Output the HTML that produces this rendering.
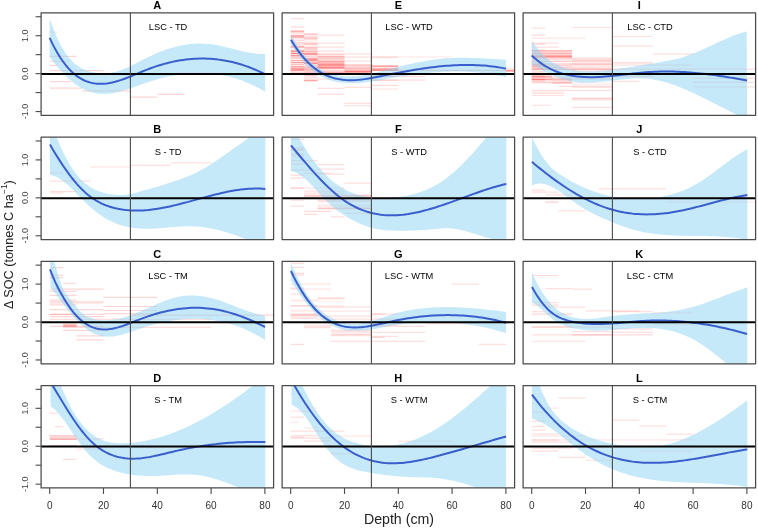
<!DOCTYPE html>
<html><head><meta charset="utf-8"><style>
html,body{margin:0;padding:0;background:#fff;}
body{width:758px;height:528px;overflow:hidden;}
svg{display:block;font-family:"Liberation Sans",sans-serif;filter:blur(0.35px);}
</style></head><body>
<svg width="758" height="528" viewBox="0 0 758 528">
<rect width="758" height="528" fill="#fff"/>
<defs><clipPath id="clipA"><rect x="41.10" y="12.95" width="232.50" height="102.40"/></clipPath><clipPath id="clipB"><rect x="41.10" y="137.15" width="232.50" height="102.40"/></clipPath><clipPath id="clipC"><rect x="41.10" y="261.35" width="232.50" height="102.40"/></clipPath><clipPath id="clipD"><rect x="41.10" y="385.55" width="232.50" height="102.40"/></clipPath><clipPath id="clipE"><rect x="282.10" y="12.95" width="232.50" height="102.40"/></clipPath><clipPath id="clipF"><rect x="282.10" y="137.15" width="232.50" height="102.40"/></clipPath><clipPath id="clipG"><rect x="282.10" y="261.35" width="232.50" height="102.40"/></clipPath><clipPath id="clipH"><rect x="282.10" y="385.55" width="232.50" height="102.40"/></clipPath><clipPath id="clipI"><rect x="523.10" y="12.95" width="232.50" height="102.40"/></clipPath><clipPath id="clipJ"><rect x="523.10" y="137.15" width="232.50" height="102.40"/></clipPath><clipPath id="clipK"><rect x="523.10" y="261.35" width="232.50" height="102.40"/></clipPath><clipPath id="clipL"><rect x="523.10" y="385.55" width="232.50" height="102.40"/></clipPath></defs>
<g clip-path="url(#clipA)">
<line x1="49.70" y1="32.11" x2="57.77" y2="32.11" stroke="#ff1a1a" stroke-opacity="0.12" stroke-width="1.2"/>
<line x1="49.70" y1="56.38" x2="76.60" y2="56.38" stroke="#ff1a1a" stroke-opacity="0.18" stroke-width="1.2"/>
<line x1="49.70" y1="61.24" x2="68.53" y2="61.24" stroke="#ff1a1a" stroke-opacity="0.18" stroke-width="1.2"/>
<line x1="49.70" y1="65.46" x2="57.77" y2="65.46" stroke="#ff1a1a" stroke-opacity="0.18" stroke-width="1.2"/>
<line x1="49.70" y1="70.53" x2="103.50" y2="70.53" stroke="#ff1a1a" stroke-opacity="0.18" stroke-width="1.2"/>
<line x1="49.70" y1="81.71" x2="71.22" y2="81.71" stroke="#ff1a1a" stroke-opacity="0.18" stroke-width="1.2"/>
<line x1="49.70" y1="88.04" x2="81.98" y2="88.04" stroke="#ff1a1a" stroke-opacity="0.18" stroke-width="1.2"/>
<line x1="81.98" y1="90.79" x2="130.40" y2="90.79" stroke="#ff1a1a" stroke-opacity="0.18" stroke-width="1.2"/>
<line x1="130.40" y1="97.12" x2="157.30" y2="97.12" stroke="#ff1a1a" stroke-opacity="0.18" stroke-width="1.2"/>
<line x1="157.30" y1="94.38" x2="184.20" y2="94.38" stroke="#ff1a1a" stroke-opacity="0.18" stroke-width="1.2"/>
<path d="M49.65,18.40 L52.38,26.15 L55.10,33.09 L57.83,39.28 L60.56,44.76 L63.28,49.57 L66.01,53.77 L68.74,57.41 L71.46,60.52 L74.19,63.16 L76.92,65.37 L79.64,67.21 L82.37,68.72 L85.10,69.94 L87.82,70.92 L90.55,71.72 L93.28,72.36 L96.00,72.84 L98.73,73.17 L101.46,73.34 L104.18,73.36 L106.91,73.23 L109.63,72.94 L112.36,72.51 L115.09,71.91 L117.81,71.17 L120.54,70.28 L123.27,69.26 L125.99,68.13 L128.72,66.90 L131.45,65.60 L134.17,64.24 L136.90,62.84 L139.63,61.42 L142.35,60.00 L145.08,58.60 L147.81,57.23 L150.53,55.92 L153.26,54.66 L155.99,53.47 L158.71,52.33 L161.44,51.26 L164.17,50.25 L166.89,49.31 L169.62,48.44 L172.35,47.63 L175.07,46.89 L177.80,46.23 L180.53,45.63 L183.25,45.11 L185.98,44.66 L188.71,44.29 L191.43,44.00 L194.16,43.79 L196.89,43.65 L199.61,43.60 L202.34,43.63 L205.07,43.75 L207.79,43.95 L210.52,44.23 L213.24,44.61 L215.97,45.05 L218.70,45.57 L221.42,46.14 L224.15,46.75 L226.88,47.39 L229.60,48.06 L232.33,48.74 L235.06,49.43 L237.78,50.10 L240.51,50.76 L243.24,51.38 L245.96,51.96 L248.69,52.50 L251.42,52.97 L254.14,53.37 L256.87,53.69 L259.60,53.91 L262.32,54.03 L265.05,54.03 L265.05,91.70 L262.32,90.11 L259.60,88.59 L256.87,87.15 L254.14,85.79 L251.42,84.50 L248.69,83.28 L245.96,82.14 L243.24,81.07 L240.51,80.07 L237.78,79.14 L235.06,78.28 L232.33,77.49 L229.60,76.77 L226.88,76.11 L224.15,75.52 L221.42,75.00 L218.70,74.54 L215.97,74.14 L213.24,73.80 L210.52,73.53 L207.79,73.32 L205.07,73.16 L202.34,73.07 L199.61,73.03 L196.89,73.06 L194.16,73.13 L191.43,73.26 L188.71,73.45 L185.98,73.69 L183.25,73.99 L180.53,74.33 L177.80,74.73 L175.07,75.17 L172.35,75.67 L169.62,76.21 L166.89,76.81 L164.17,77.44 L161.44,78.13 L158.71,78.86 L155.99,79.63 L153.26,80.45 L150.53,81.30 L147.81,82.20 L145.08,83.14 L142.35,84.10 L139.63,85.08 L136.90,86.06 L134.17,87.04 L131.45,87.99 L128.72,88.91 L125.99,89.79 L123.27,90.62 L120.54,91.37 L117.81,92.05 L115.09,92.64 L112.36,93.13 L109.63,93.51 L106.91,93.76 L104.18,93.87 L101.46,93.84 L98.73,93.64 L96.00,93.28 L93.28,92.73 L90.55,91.99 L87.82,91.04 L85.10,89.89 L82.37,88.53 L79.64,86.96 L76.92,85.19 L74.19,83.22 L71.46,81.05 L68.74,78.68 L66.01,76.11 L63.28,73.35 L60.56,70.40 L57.83,67.26 L55.10,63.92 L52.38,60.40 L49.65,56.70 Z" fill="rgb(139,211,241)" fill-opacity="0.5"/>
<path d="M49.65,37.94 L52.38,43.64 L55.10,48.87 L57.83,53.65 L60.56,58.01 L63.28,61.95 L66.01,65.49 L68.74,68.66 L71.46,71.47 L74.19,73.94 L76.92,76.09 L79.64,77.93 L82.37,79.49 L85.10,80.78 L87.82,81.83 L90.55,82.64 L93.28,83.24 L96.00,83.63 L98.73,83.84 L101.46,83.87 L104.18,83.73 L106.91,83.44 L109.63,83.02 L112.36,82.46 L115.09,81.79 L117.81,81.02 L120.54,80.16 L123.27,79.22 L125.99,78.22 L128.72,77.16 L131.45,76.06 L134.17,74.94 L136.90,73.80 L139.63,72.66 L142.35,71.52 L145.08,70.41 L147.81,69.34 L150.53,68.31 L153.26,67.33 L155.99,66.40 L158.71,65.52 L161.44,64.69 L164.17,63.91 L166.89,63.18 L169.62,62.51 L172.35,61.89 L175.07,61.32 L177.80,60.80 L180.53,60.34 L183.25,59.93 L185.98,59.57 L188.71,59.27 L191.43,59.02 L194.16,58.83 L196.89,58.69 L199.61,58.61 L202.34,58.59 L205.07,58.62 L207.79,58.70 L210.52,58.85 L213.24,59.05 L215.97,59.31 L218.70,59.63 L221.42,60.00 L224.15,60.44 L226.88,60.93 L229.60,61.49 L232.33,62.10 L235.06,62.77 L237.78,63.51 L240.51,64.30 L243.24,65.16 L245.96,66.08 L248.69,67.05 L251.42,68.10 L254.14,69.20 L256.87,70.37 L259.60,71.60 L262.32,72.89 L265.05,74.25" fill="none" stroke="#3a5fcd" stroke-width="2" stroke-linejoin="round"/>
</g>
<line x1="41.10" y1="73.94" x2="273.60" y2="73.94" stroke="#000" stroke-width="2"/>
<line x1="130.40" y1="12.95" x2="130.40" y2="115.35" stroke="#4a4a4a" stroke-width="1.1"/>
<rect x="41.10" y="12.95" width="232.50" height="102.40" fill="none" stroke="#4a4a4a" stroke-width="1.25" stroke-linejoin="round"/>
<text x="157.35" y="9.25" font-size="11" font-weight="bold" text-anchor="middle" fill="#000">A</text>
<text x="168.06" y="30.35" font-size="9.3" text-anchor="middle" fill="#000">LSC - TD</text>
<g clip-path="url(#clipB)">
<line x1="90.05" y1="167.00" x2="130.40" y2="167.00" stroke="#ff1a1a" stroke-opacity="0.14" stroke-width="1.2"/>
<line x1="130.40" y1="165.30" x2="170.75" y2="165.30" stroke="#ff1a1a" stroke-opacity="0.14" stroke-width="1.2"/>
<line x1="170.75" y1="162.80" x2="211.10" y2="162.80" stroke="#ff1a1a" stroke-opacity="0.14" stroke-width="1.2"/>
<line x1="49.70" y1="173.00" x2="63.15" y2="173.00" stroke="#ff1a1a" stroke-opacity="0.14" stroke-width="1.2"/>
<line x1="49.70" y1="181.10" x2="90.05" y2="181.10" stroke="#ff1a1a" stroke-opacity="0.14" stroke-width="1.2"/>
<line x1="49.70" y1="191.70" x2="76.60" y2="191.70" stroke="#ff1a1a" stroke-opacity="0.16" stroke-width="1.2"/>
<line x1="49.70" y1="193.00" x2="63.15" y2="193.00" stroke="#ff1a1a" stroke-opacity="0.14" stroke-width="1.2"/>
<path d="M49.95,119.03 L52.68,126.80 L55.40,134.09 L58.13,140.91 L60.86,147.24 L63.58,153.11 L66.31,158.49 L69.04,163.39 L71.76,167.81 L74.49,171.77 L77.22,175.30 L79.94,178.43 L82.67,181.18 L85.40,183.58 L88.12,185.66 L90.85,187.45 L93.58,188.97 L96.30,190.26 L99.03,191.34 L101.76,192.24 L104.48,193.00 L107.21,193.63 L109.93,194.15 L112.66,194.55 L115.39,194.82 L118.11,194.97 L120.84,195.00 L123.57,194.89 L126.29,194.65 L129.02,194.27 L131.75,193.76 L134.47,193.12 L137.20,192.39 L139.93,191.60 L142.65,190.78 L145.38,189.96 L148.11,189.16 L150.83,188.42 L153.56,187.69 L156.29,186.95 L159.01,186.16 L161.74,185.33 L164.47,184.46 L167.19,183.57 L169.92,182.66 L172.65,181.75 L175.37,180.83 L178.10,179.91 L180.83,178.98 L183.55,178.03 L186.28,177.03 L189.01,175.98 L191.73,174.85 L194.46,173.62 L197.19,172.29 L199.91,170.85 L202.64,169.32 L205.37,167.70 L208.09,166.02 L210.82,164.29 L213.54,162.51 L216.27,160.69 L219.00,158.84 L221.72,156.96 L224.45,155.06 L227.18,153.15 L229.90,151.22 L232.63,149.29 L235.36,147.36 L238.08,145.43 L240.81,143.52 L243.54,141.60 L246.26,139.66 L248.99,137.67 L251.72,135.61 L254.44,133.44 L257.17,131.15 L259.90,128.71 L262.62,126.09 L265.35,123.26 L265.35,247.54 L262.62,246.32 L259.90,245.11 L257.17,243.92 L254.44,242.75 L251.72,241.59 L248.99,240.46 L246.26,239.36 L243.54,238.28 L240.81,237.23 L238.08,236.21 L235.36,235.23 L232.63,234.28 L229.90,233.38 L227.18,232.52 L224.45,231.70 L221.72,230.93 L219.00,230.21 L216.27,229.54 L213.54,228.93 L210.82,228.38 L208.09,227.88 L205.37,227.45 L202.64,227.08 L199.91,226.79 L197.19,226.56 L194.46,226.40 L191.73,226.32 L189.01,226.30 L186.28,226.34 L183.55,226.42 L180.83,226.55 L178.10,226.71 L175.37,226.91 L172.65,227.12 L169.92,227.34 L167.19,227.57 L164.47,227.80 L161.74,228.01 L159.01,228.21 L156.29,228.39 L153.56,228.54 L150.83,228.64 L148.11,228.70 L145.38,228.71 L142.65,228.65 L139.93,228.53 L137.20,228.33 L134.47,228.04 L131.75,227.67 L129.02,227.20 L126.29,226.62 L123.57,225.93 L120.84,225.14 L118.11,224.22 L115.39,223.18 L112.66,222.02 L109.93,220.72 L107.21,219.29 L104.48,217.71 L101.76,215.99 L99.03,214.12 L96.30,212.10 L93.58,209.92 L90.85,207.57 L88.12,205.06 L85.40,202.42 L82.67,199.69 L79.94,196.91 L77.22,194.12 L74.49,191.36 L71.76,188.68 L69.04,186.11 L66.31,183.70 L63.58,181.48 L60.86,179.51 L58.13,177.81 L55.40,176.43 L52.68,175.42 L49.95,174.81 Z" fill="rgb(139,211,241)" fill-opacity="0.5"/>
<path d="M49.95,144.51 L52.68,149.19 L55.40,153.73 L58.13,158.13 L60.86,162.38 L63.58,166.48 L66.31,170.41 L69.04,174.17 L71.76,177.75 L74.49,181.14 L77.22,184.33 L79.94,187.32 L82.67,190.09 L85.40,192.64 L88.12,194.96 L90.85,197.07 L93.58,198.97 L96.30,200.68 L99.03,202.21 L101.76,203.56 L104.48,204.76 L107.21,205.82 L109.93,206.73 L112.66,207.53 L115.39,208.21 L118.11,208.80 L120.84,209.29 L123.57,209.70 L126.29,210.02 L129.02,210.27 L131.75,210.43 L134.47,210.53 L137.20,210.55 L139.93,210.50 L142.65,210.39 L145.38,210.22 L148.11,209.99 L150.83,209.70 L153.56,209.36 L156.29,208.98 L159.01,208.54 L161.74,208.07 L164.47,207.55 L167.19,207.00 L169.92,206.41 L172.65,205.79 L175.37,205.15 L178.10,204.48 L180.83,203.79 L183.55,203.08 L186.28,202.36 L189.01,201.63 L191.73,200.88 L194.46,200.14 L197.19,199.39 L199.91,198.64 L202.64,197.89 L205.37,197.15 L208.09,196.42 L210.82,195.70 L213.54,195.00 L216.27,194.32 L219.00,193.66 L221.72,193.03 L224.45,192.43 L227.18,191.85 L229.90,191.31 L232.63,190.81 L235.36,190.36 L238.08,189.94 L240.81,189.58 L243.54,189.26 L246.26,189.00 L248.99,188.79 L251.72,188.64 L254.44,188.56 L257.17,188.54 L259.90,188.59 L262.62,188.72 L265.35,188.92" fill="none" stroke="#3a5fcd" stroke-width="2" stroke-linejoin="round"/>
</g>
<line x1="41.10" y1="198.14" x2="273.60" y2="198.14" stroke="#000" stroke-width="2"/>
<line x1="130.40" y1="137.15" x2="130.40" y2="239.55" stroke="#4a4a4a" stroke-width="1.1"/>
<rect x="41.10" y="137.15" width="232.50" height="102.40" fill="none" stroke="#4a4a4a" stroke-width="1.25" stroke-linejoin="round"/>
<text x="157.35" y="133.45" font-size="11" font-weight="bold" text-anchor="middle" fill="#000">B</text>
<text x="168.06" y="154.55" font-size="9.3" text-anchor="middle" fill="#000">S - TD</text>
<g clip-path="url(#clipC)">
<line x1="49.70" y1="267.57" x2="63.15" y2="267.57" stroke="#ff1a1a" stroke-opacity="0.18" stroke-width="1.2"/>
<line x1="49.70" y1="275.04" x2="63.15" y2="275.04" stroke="#ff1a1a" stroke-opacity="0.18" stroke-width="1.2"/>
<line x1="49.70" y1="277.58" x2="63.15" y2="277.58" stroke="#ff1a1a" stroke-opacity="0.18" stroke-width="1.2"/>
<line x1="49.70" y1="326.40" x2="63.15" y2="326.40" stroke="#ff1a1a" stroke-opacity="0.18" stroke-width="1.2"/>
<line x1="63.15" y1="283.47" x2="76.60" y2="283.47" stroke="#ff1a1a" stroke-opacity="0.15" stroke-width="1.2"/>
<line x1="49.70" y1="289.03" x2="103.50" y2="289.03" stroke="#ff1a1a" stroke-opacity="0.18" stroke-width="1.2"/>
<line x1="49.70" y1="301.75" x2="103.50" y2="301.75" stroke="#ff1a1a" stroke-opacity="0.18" stroke-width="1.2"/>
<line x1="49.70" y1="303.02" x2="103.50" y2="303.02" stroke="#ff1a1a" stroke-opacity="0.18" stroke-width="1.2"/>
<line x1="49.70" y1="309.70" x2="103.50" y2="309.70" stroke="#ff1a1a" stroke-opacity="0.18" stroke-width="1.2"/>
<line x1="49.70" y1="314.47" x2="103.50" y2="314.47" stroke="#ff1a1a" stroke-opacity="0.18" stroke-width="1.2"/>
<line x1="49.70" y1="316.54" x2="103.50" y2="316.54" stroke="#ff1a1a" stroke-opacity="0.18" stroke-width="1.2"/>
<line x1="49.70" y1="291.42" x2="76.60" y2="291.42" stroke="#ff1a1a" stroke-opacity="0.18" stroke-width="1.2"/>
<line x1="49.70" y1="295.39" x2="76.60" y2="295.39" stroke="#ff1a1a" stroke-opacity="0.18" stroke-width="1.2"/>
<line x1="49.70" y1="300.16" x2="76.60" y2="300.16" stroke="#ff1a1a" stroke-opacity="0.18" stroke-width="1.2"/>
<line x1="49.70" y1="304.93" x2="76.60" y2="304.93" stroke="#ff1a1a" stroke-opacity="0.18" stroke-width="1.2"/>
<line x1="49.70" y1="314.47" x2="76.60" y2="314.47" stroke="#ff1a1a" stroke-opacity="0.18" stroke-width="1.2"/>
<line x1="103.50" y1="297.30" x2="157.30" y2="297.30" stroke="#ff1a1a" stroke-opacity="0.18" stroke-width="1.2"/>
<line x1="103.50" y1="306.52" x2="157.30" y2="306.52" stroke="#ff1a1a" stroke-opacity="0.18" stroke-width="1.2"/>
<line x1="103.50" y1="310.50" x2="157.30" y2="310.50" stroke="#ff1a1a" stroke-opacity="0.18" stroke-width="1.2"/>
<line x1="103.50" y1="313.68" x2="157.30" y2="313.68" stroke="#ff1a1a" stroke-opacity="0.18" stroke-width="1.2"/>
<line x1="63.15" y1="324.01" x2="76.60" y2="324.01" stroke="#ff1a1a" stroke-opacity="0.21" stroke-width="1.2"/>
<line x1="63.15" y1="324.81" x2="76.60" y2="324.81" stroke="#ff1a1a" stroke-opacity="0.21" stroke-width="1.2"/>
<line x1="63.15" y1="325.60" x2="76.60" y2="325.60" stroke="#ff1a1a" stroke-opacity="0.21" stroke-width="1.2"/>
<line x1="63.15" y1="326.40" x2="76.60" y2="326.40" stroke="#ff1a1a" stroke-opacity="0.21" stroke-width="1.2"/>
<line x1="63.15" y1="327.19" x2="76.60" y2="327.19" stroke="#ff1a1a" stroke-opacity="0.21" stroke-width="1.2"/>
<line x1="63.15" y1="326.40" x2="103.50" y2="326.40" stroke="#ff1a1a" stroke-opacity="0.18" stroke-width="1.2"/>
<line x1="63.15" y1="330.37" x2="103.50" y2="330.37" stroke="#ff1a1a" stroke-opacity="0.18" stroke-width="1.2"/>
<line x1="76.60" y1="335.94" x2="103.50" y2="335.94" stroke="#ff1a1a" stroke-opacity="0.18" stroke-width="1.2"/>
<line x1="76.60" y1="339.91" x2="103.50" y2="339.91" stroke="#ff1a1a" stroke-opacity="0.18" stroke-width="1.2"/>
<line x1="49.70" y1="319.24" x2="130.40" y2="319.24" stroke="#ff1a1a" stroke-opacity="0.18" stroke-width="1.2"/>
<line x1="130.40" y1="315.04" x2="278.35" y2="315.04" stroke="#ff1a1a" stroke-opacity="0.18" stroke-width="1.2"/>
<line x1="130.40" y1="319.39" x2="211.10" y2="319.39" stroke="#ff1a1a" stroke-opacity="0.15" stroke-width="1.2"/>
<line x1="76.60" y1="327.31" x2="211.10" y2="327.31" stroke="#ff1a1a" stroke-opacity="0.15" stroke-width="1.2"/>
<path d="M49.95,247.03 L52.67,256.26 L55.40,265.81 L58.12,275.00 L60.84,283.18 L63.56,289.70 L66.29,294.45 L69.01,298.06 L71.73,301.25 L74.46,304.56 L77.18,307.90 L79.90,311.01 L82.62,313.60 L85.35,315.54 L88.07,316.96 L90.79,318.00 L93.51,318.79 L96.24,319.41 L98.96,319.85 L101.68,320.14 L104.41,320.27 L107.13,320.25 L109.85,320.10 L112.57,319.81 L115.30,319.41 L118.02,318.89 L120.74,318.27 L123.47,317.55 L126.19,316.75 L128.91,315.86 L131.63,314.90 L134.36,313.88 L137.08,312.80 L139.80,311.67 L142.52,310.51 L145.25,309.32 L147.97,308.11 L150.69,306.89 L153.42,305.68 L156.14,304.48 L158.86,303.32 L161.58,302.19 L164.31,301.12 L167.03,300.10 L169.75,299.16 L172.48,298.31 L175.20,297.55 L177.92,296.89 L180.64,296.36 L183.37,295.95 L186.09,295.66 L188.81,295.48 L191.53,295.42 L194.26,295.47 L196.98,295.63 L199.70,295.89 L202.43,296.25 L205.15,296.71 L207.87,297.26 L210.59,297.91 L213.32,298.64 L216.04,299.44 L218.76,300.32 L221.49,301.25 L224.21,302.23 L226.93,303.24 L229.65,304.28 L232.38,305.34 L235.10,306.40 L237.82,307.46 L240.54,308.51 L243.27,309.53 L245.99,310.52 L248.71,311.46 L251.44,312.35 L254.16,313.18 L256.88,313.93 L259.60,314.60 L262.33,315.17 L265.05,315.64 L265.05,339.98 L262.34,338.29 L259.62,336.68 L256.91,335.14 L254.19,333.68 L251.48,332.29 L248.77,330.98 L246.05,329.74 L243.34,328.57 L240.62,327.47 L237.91,326.44 L235.20,325.48 L232.48,324.59 L229.77,323.77 L227.06,323.01 L224.34,322.32 L221.63,321.70 L218.91,321.14 L216.20,320.64 L213.49,320.20 L210.77,319.83 L208.06,319.51 L205.34,319.26 L202.63,319.06 L199.92,318.92 L197.20,318.84 L194.49,318.81 L191.77,318.84 L189.06,318.92 L186.35,319.06 L183.63,319.24 L180.92,319.48 L178.20,319.77 L175.49,320.11 L172.78,320.50 L170.06,320.94 L167.35,321.42 L164.63,321.95 L161.92,322.53 L159.21,323.14 L156.49,323.81 L153.78,324.51 L151.07,325.26 L148.35,326.04 L145.64,326.87 L142.92,327.74 L140.21,328.64 L137.50,329.58 L134.78,330.53 L132.07,331.47 L129.35,332.40 L126.64,333.28 L123.93,334.10 L121.21,334.84 L118.50,335.48 L115.78,336.00 L113.07,336.39 L110.36,336.62 L107.64,336.67 L104.93,336.52 L102.21,336.17 L99.50,335.57 L96.79,334.73 L94.07,333.62 L91.36,332.21 L88.64,330.51 L85.93,328.52 L83.22,326.28 L80.50,323.80 L77.79,321.10 L75.08,318.22 L72.36,315.16 L69.65,311.96 L66.93,308.64 L64.22,305.21 L61.51,301.71 L58.79,298.15 L56.08,294.56 L53.36,290.95 L50.65,287.36 Z" fill="rgb(139,211,241)" fill-opacity="0.5"/>
<path d="M49.95,269.40 L52.67,276.16 L55.40,282.32 L58.12,287.95 L60.84,293.11 L63.56,297.87 L66.29,302.29 L69.01,306.38 L71.73,310.14 L74.46,313.52 L77.18,316.53 L79.90,319.19 L82.62,321.51 L85.35,323.50 L88.07,325.18 L90.79,326.56 L93.51,327.65 L96.24,328.46 L98.96,329.03 L101.68,329.35 L104.41,329.47 L107.13,329.38 L109.85,329.11 L112.57,328.68 L115.30,328.10 L118.02,327.39 L120.74,326.58 L123.47,325.68 L126.19,324.70 L128.91,323.67 L131.63,322.60 L134.36,321.52 L137.08,320.43 L139.80,319.36 L142.52,318.33 L145.25,317.34 L147.97,316.39 L150.69,315.48 L153.42,314.62 L156.14,313.81 L158.86,313.05 L161.58,312.33 L164.31,311.66 L167.03,311.04 L169.75,310.47 L172.48,309.95 L175.20,309.49 L177.92,309.08 L180.64,308.72 L183.37,308.42 L186.09,308.18 L188.81,307.99 L191.53,307.87 L194.26,307.80 L196.98,307.79 L199.70,307.85 L202.43,307.96 L205.15,308.14 L207.87,308.39 L210.59,308.70 L213.32,309.07 L216.04,309.52 L218.76,310.02 L221.49,310.58 L224.21,311.21 L226.93,311.90 L229.65,312.64 L232.38,313.44 L235.10,314.30 L237.82,315.21 L240.54,316.17 L243.27,317.19 L245.99,318.25 L248.71,319.37 L251.44,320.53 L254.16,321.74 L256.88,322.99 L259.60,324.29 L262.33,325.63 L265.05,327.01" fill="none" stroke="#3a5fcd" stroke-width="2" stroke-linejoin="round"/>
</g>
<line x1="41.10" y1="322.34" x2="273.60" y2="322.34" stroke="#000" stroke-width="2"/>
<line x1="130.40" y1="261.35" x2="130.40" y2="363.75" stroke="#4a4a4a" stroke-width="1.1"/>
<rect x="41.10" y="261.35" width="232.50" height="102.40" fill="none" stroke="#4a4a4a" stroke-width="1.25" stroke-linejoin="round"/>
<text x="157.35" y="257.65" font-size="11" font-weight="bold" text-anchor="middle" fill="#000">C</text>
<text x="168.06" y="278.75" font-size="9.3" text-anchor="middle" fill="#000">LSC - TM</text>
<g clip-path="url(#clipD)">
<line x1="49.70" y1="435.60" x2="76.60" y2="435.60" stroke="#ff1a1a" stroke-opacity="0.21" stroke-width="1.2"/>
<line x1="49.70" y1="437.10" x2="76.60" y2="437.10" stroke="#ff1a1a" stroke-opacity="0.24" stroke-width="1.2"/>
<line x1="49.70" y1="439.10" x2="76.60" y2="439.10" stroke="#ff1a1a" stroke-opacity="0.38" stroke-width="1.2"/>
<line x1="49.70" y1="438.80" x2="103.50" y2="438.80" stroke="#ff1a1a" stroke-opacity="0.16" stroke-width="1.2"/>
<line x1="49.70" y1="445.60" x2="76.60" y2="445.60" stroke="#ff1a1a" stroke-opacity="0.22" stroke-width="1.2"/>
<line x1="76.60" y1="449.20" x2="103.50" y2="449.20" stroke="#ff1a1a" stroke-opacity="0.11" stroke-width="1.2"/>
<line x1="63.15" y1="459.30" x2="76.60" y2="459.30" stroke="#ff1a1a" stroke-opacity="0.16" stroke-width="1.2"/>
<line x1="55.08" y1="426.70" x2="63.15" y2="426.70" stroke="#ff1a1a" stroke-opacity="0.14" stroke-width="1.2"/>
<line x1="49.70" y1="413.10" x2="57.77" y2="413.10" stroke="#ff1a1a" stroke-opacity="0.14" stroke-width="1.2"/>
<path d="M49.95,353.40 L52.68,362.31 L55.40,370.61 L58.13,378.34 L60.86,385.51 L63.58,392.14 L66.31,398.25 L69.04,403.87 L71.76,409.01 L74.49,413.69 L77.22,417.93 L79.94,421.76 L82.67,425.20 L85.40,428.26 L88.12,430.97 L90.85,433.34 L93.58,435.40 L96.30,437.16 L99.03,438.66 L101.76,439.90 L104.48,440.91 L107.21,441.71 L109.93,442.31 L112.66,442.75 L115.39,443.04 L118.11,443.19 L120.84,443.24 L123.57,443.20 L126.29,443.09 L129.02,442.93 L131.75,442.70 L134.47,442.42 L137.20,442.09 L139.93,441.70 L142.65,441.25 L145.38,440.75 L148.11,440.20 L150.83,439.60 L153.56,438.94 L156.29,438.23 L159.01,437.48 L161.74,436.67 L164.47,435.82 L167.19,434.91 L169.92,433.96 L172.65,432.96 L175.37,431.92 L178.10,430.83 L180.83,429.69 L183.55,428.51 L186.28,427.29 L189.01,426.02 L191.73,424.71 L194.46,423.36 L197.19,421.97 L199.91,420.53 L202.64,419.06 L205.37,417.55 L208.09,416.00 L210.82,414.41 L213.54,412.79 L216.27,411.12 L219.00,409.43 L221.72,407.69 L224.45,405.93 L227.18,404.13 L229.90,402.29 L232.63,400.43 L235.36,398.53 L238.08,396.60 L240.81,394.64 L243.54,392.65 L246.26,390.63 L248.99,388.58 L251.72,386.50 L254.44,384.40 L257.17,382.27 L259.90,380.11 L262.62,377.93 L265.35,375.73 L265.35,499.70 L262.63,498.50 L259.91,497.28 L257.20,496.05 L254.48,494.82 L251.76,493.58 L249.04,492.34 L246.33,491.11 L243.61,489.90 L240.89,488.69 L238.17,487.51 L235.46,486.35 L232.74,485.22 L230.02,484.12 L227.30,483.05 L224.58,482.03 L221.87,481.05 L219.15,480.13 L216.43,479.26 L213.71,478.44 L211.00,477.69 L208.28,477.01 L205.56,476.40 L202.84,475.86 L200.12,475.41 L197.41,475.04 L194.69,474.76 L191.97,474.56 L189.25,474.45 L186.54,474.41 L183.82,474.43 L181.10,474.50 L178.38,474.62 L175.67,474.77 L172.95,474.94 L170.23,475.13 L167.51,475.32 L164.79,475.51 L162.08,475.68 L159.36,475.83 L156.64,475.95 L153.92,476.03 L151.21,476.06 L148.49,476.04 L145.77,475.97 L143.05,475.85 L140.33,475.67 L137.62,475.44 L134.90,475.14 L132.18,474.79 L129.46,474.37 L126.75,473.89 L124.03,473.34 L121.31,472.72 L118.59,472.03 L115.88,471.26 L113.16,470.37 L110.44,469.36 L107.72,468.19 L105.00,466.85 L102.29,465.32 L99.57,463.57 L96.85,461.59 L94.13,459.36 L91.42,456.89 L88.70,454.15 L85.98,451.15 L83.26,447.87 L80.54,444.33 L77.83,440.57 L75.11,436.65 L72.39,432.63 L69.67,428.60 L66.96,424.62 L64.24,420.77 L61.52,417.13 L58.80,413.78 L56.09,410.79 L53.37,408.23 L50.65,406.19 Z" fill="rgb(139,211,241)" fill-opacity="0.5"/>
<path d="M48.35,378.68 L51.10,383.12 L53.84,387.62 L56.59,392.17 L59.34,396.72 L62.08,401.26 L64.83,405.75 L67.58,410.18 L70.32,414.50 L73.07,418.69 L75.82,422.74 L78.57,426.59 L81.31,430.25 L84.06,433.68 L86.81,436.89 L89.55,439.86 L92.30,442.58 L95.05,445.04 L97.79,447.25 L100.54,449.21 L103.29,450.94 L106.03,452.45 L108.78,453.77 L111.53,454.91 L114.27,455.88 L117.02,456.69 L119.77,457.35 L122.51,457.86 L125.26,458.24 L128.01,458.49 L130.76,458.63 L133.50,458.65 L136.25,458.57 L139.00,458.39 L141.74,458.13 L144.49,457.79 L147.24,457.38 L149.98,456.92 L152.73,456.39 L155.48,455.82 L158.22,455.22 L160.97,454.58 L163.72,453.93 L166.46,453.26 L169.21,452.59 L171.96,451.93 L174.70,451.27 L177.45,450.64 L180.20,450.03 L182.94,449.44 L185.69,448.87 L188.44,448.33 L191.19,447.81 L193.93,447.31 L196.68,446.84 L199.43,446.38 L202.17,445.95 L204.92,445.54 L207.67,445.16 L210.41,444.79 L213.16,444.45 L215.91,444.13 L218.65,443.83 L221.40,443.56 L224.15,443.30 L226.89,443.07 L229.64,442.86 L232.39,442.67 L235.13,442.50 L237.88,442.36 L240.63,442.23 L243.38,442.13 L246.12,442.05 L248.87,441.99 L251.62,441.95 L254.36,441.93 L257.11,441.94 L259.86,441.96 L262.60,442.01 L265.35,442.08" fill="none" stroke="#3a5fcd" stroke-width="2" stroke-linejoin="round"/>
</g>
<line x1="41.10" y1="446.54" x2="273.60" y2="446.54" stroke="#000" stroke-width="2"/>
<line x1="130.40" y1="385.55" x2="130.40" y2="487.95" stroke="#4a4a4a" stroke-width="1.1"/>
<rect x="41.10" y="385.55" width="232.50" height="102.40" fill="none" stroke="#4a4a4a" stroke-width="1.25" stroke-linejoin="round"/>
<text x="157.35" y="381.85" font-size="11" font-weight="bold" text-anchor="middle" fill="#000">D</text>
<text x="168.06" y="402.95" font-size="9.3" text-anchor="middle" fill="#000">S - TM</text>
<g clip-path="url(#clipE)">
<line x1="290.70" y1="18.60" x2="304.15" y2="18.60" stroke="#ff1a1a" stroke-opacity="0.14" stroke-width="1.2"/>
<line x1="290.70" y1="27.10" x2="304.15" y2="27.10" stroke="#ff1a1a" stroke-opacity="0.16" stroke-width="1.2"/>
<line x1="290.70" y1="31.10" x2="304.15" y2="31.10" stroke="#ff1a1a" stroke-opacity="0.36" stroke-width="1.2"/>
<line x1="290.70" y1="32.10" x2="304.15" y2="32.10" stroke="#ff1a1a" stroke-opacity="0.20" stroke-width="1.2"/>
<line x1="290.70" y1="33.60" x2="304.15" y2="33.60" stroke="#ff1a1a" stroke-opacity="0.12" stroke-width="1.2"/>
<line x1="290.70" y1="35.60" x2="304.15" y2="35.60" stroke="#ff1a1a" stroke-opacity="0.36" stroke-width="1.2"/>
<line x1="290.70" y1="36.60" x2="304.15" y2="36.60" stroke="#ff1a1a" stroke-opacity="0.30" stroke-width="1.2"/>
<line x1="290.70" y1="37.60" x2="304.15" y2="37.60" stroke="#ff1a1a" stroke-opacity="0.23" stroke-width="1.2"/>
<line x1="290.70" y1="39.10" x2="304.15" y2="39.10" stroke="#ff1a1a" stroke-opacity="0.10" stroke-width="1.2"/>
<line x1="290.70" y1="40.60" x2="304.15" y2="40.60" stroke="#ff1a1a" stroke-opacity="0.16" stroke-width="1.2"/>
<line x1="290.70" y1="42.60" x2="304.15" y2="42.60" stroke="#ff1a1a" stroke-opacity="0.18" stroke-width="1.2"/>
<line x1="290.70" y1="44.10" x2="304.15" y2="44.10" stroke="#ff1a1a" stroke-opacity="0.18" stroke-width="1.2"/>
<line x1="290.70" y1="46.10" x2="304.15" y2="46.10" stroke="#ff1a1a" stroke-opacity="0.22" stroke-width="1.2"/>
<line x1="290.70" y1="47.10" x2="304.15" y2="47.10" stroke="#ff1a1a" stroke-opacity="0.40" stroke-width="1.2"/>
<line x1="290.70" y1="49.10" x2="304.15" y2="49.10" stroke="#ff1a1a" stroke-opacity="0.12" stroke-width="1.2"/>
<line x1="290.70" y1="51.10" x2="304.15" y2="51.10" stroke="#ff1a1a" stroke-opacity="0.15" stroke-width="1.2"/>
<line x1="290.70" y1="51.10" x2="304.15" y2="51.10" stroke="#ff1a1a" stroke-opacity="0.53" stroke-width="1.2"/>
<line x1="290.70" y1="52.60" x2="304.15" y2="52.60" stroke="#ff1a1a" stroke-opacity="0.18" stroke-width="1.2"/>
<line x1="290.70" y1="53.60" x2="304.15" y2="53.60" stroke="#ff1a1a" stroke-opacity="0.52" stroke-width="1.2"/>
<line x1="290.70" y1="55.60" x2="304.15" y2="55.60" stroke="#ff1a1a" stroke-opacity="0.46" stroke-width="1.2"/>
<line x1="290.70" y1="57.10" x2="304.15" y2="57.10" stroke="#ff1a1a" stroke-opacity="0.29" stroke-width="1.2"/>
<line x1="290.70" y1="58.60" x2="304.15" y2="58.60" stroke="#ff1a1a" stroke-opacity="0.20" stroke-width="1.2"/>
<line x1="290.70" y1="60.60" x2="304.15" y2="60.60" stroke="#ff1a1a" stroke-opacity="0.37" stroke-width="1.2"/>
<line x1="290.70" y1="62.60" x2="304.15" y2="62.60" stroke="#ff1a1a" stroke-opacity="0.45" stroke-width="1.2"/>
<line x1="290.70" y1="64.60" x2="304.15" y2="64.60" stroke="#ff1a1a" stroke-opacity="0.29" stroke-width="1.2"/>
<line x1="290.70" y1="66.60" x2="304.15" y2="66.60" stroke="#ff1a1a" stroke-opacity="0.39" stroke-width="1.2"/>
<line x1="290.70" y1="68.10" x2="304.15" y2="68.10" stroke="#ff1a1a" stroke-opacity="0.38" stroke-width="1.2"/>
<line x1="290.70" y1="69.10" x2="304.15" y2="69.10" stroke="#ff1a1a" stroke-opacity="0.35" stroke-width="1.2"/>
<line x1="290.70" y1="70.10" x2="304.15" y2="70.10" stroke="#ff1a1a" stroke-opacity="0.49" stroke-width="1.2"/>
<line x1="290.70" y1="71.10" x2="304.15" y2="71.10" stroke="#ff1a1a" stroke-opacity="0.19" stroke-width="1.2"/>
<line x1="290.70" y1="72.60" x2="304.15" y2="72.60" stroke="#ff1a1a" stroke-opacity="0.18" stroke-width="1.2"/>
<line x1="304.15" y1="34.10" x2="317.60" y2="34.10" stroke="#ff1a1a" stroke-opacity="0.32" stroke-width="1.2"/>
<line x1="304.15" y1="36.10" x2="317.60" y2="36.10" stroke="#ff1a1a" stroke-opacity="0.10" stroke-width="1.2"/>
<line x1="304.15" y1="37.10" x2="317.60" y2="37.10" stroke="#ff1a1a" stroke-opacity="0.15" stroke-width="1.2"/>
<line x1="304.15" y1="38.10" x2="317.60" y2="38.10" stroke="#ff1a1a" stroke-opacity="0.20" stroke-width="1.2"/>
<line x1="304.15" y1="39.10" x2="317.60" y2="39.10" stroke="#ff1a1a" stroke-opacity="0.19" stroke-width="1.2"/>
<line x1="304.15" y1="41.10" x2="317.60" y2="41.10" stroke="#ff1a1a" stroke-opacity="0.09" stroke-width="1.2"/>
<line x1="304.15" y1="43.10" x2="317.60" y2="43.10" stroke="#ff1a1a" stroke-opacity="0.19" stroke-width="1.2"/>
<line x1="304.15" y1="44.10" x2="317.60" y2="44.10" stroke="#ff1a1a" stroke-opacity="0.29" stroke-width="1.2"/>
<line x1="304.15" y1="46.10" x2="317.60" y2="46.10" stroke="#ff1a1a" stroke-opacity="0.13" stroke-width="1.2"/>
<line x1="304.15" y1="47.60" x2="317.60" y2="47.60" stroke="#ff1a1a" stroke-opacity="0.27" stroke-width="1.2"/>
<line x1="304.15" y1="49.10" x2="317.60" y2="49.10" stroke="#ff1a1a" stroke-opacity="0.28" stroke-width="1.2"/>
<line x1="304.15" y1="50.60" x2="317.60" y2="50.60" stroke="#ff1a1a" stroke-opacity="0.17" stroke-width="1.2"/>
<line x1="304.15" y1="51.60" x2="317.60" y2="51.60" stroke="#ff1a1a" stroke-opacity="0.28" stroke-width="1.2"/>
<line x1="304.15" y1="53.10" x2="317.60" y2="53.10" stroke="#ff1a1a" stroke-opacity="0.27" stroke-width="1.2"/>
<line x1="304.15" y1="54.10" x2="317.60" y2="54.10" stroke="#ff1a1a" stroke-opacity="0.60" stroke-width="1.2"/>
<line x1="304.15" y1="56.10" x2="317.60" y2="56.10" stroke="#ff1a1a" stroke-opacity="0.24" stroke-width="1.2"/>
<line x1="304.15" y1="58.10" x2="317.60" y2="58.10" stroke="#ff1a1a" stroke-opacity="0.28" stroke-width="1.2"/>
<line x1="304.15" y1="59.10" x2="317.60" y2="59.10" stroke="#ff1a1a" stroke-opacity="0.42" stroke-width="1.2"/>
<line x1="304.15" y1="60.10" x2="317.60" y2="60.10" stroke="#ff1a1a" stroke-opacity="0.50" stroke-width="1.2"/>
<line x1="304.15" y1="61.10" x2="317.60" y2="61.10" stroke="#ff1a1a" stroke-opacity="0.28" stroke-width="1.2"/>
<line x1="304.15" y1="63.10" x2="317.60" y2="63.10" stroke="#ff1a1a" stroke-opacity="0.68" stroke-width="1.2"/>
<line x1="304.15" y1="65.10" x2="317.60" y2="65.10" stroke="#ff1a1a" stroke-opacity="0.23" stroke-width="1.2"/>
<line x1="304.15" y1="67.10" x2="317.60" y2="67.10" stroke="#ff1a1a" stroke-opacity="0.40" stroke-width="1.2"/>
<line x1="304.15" y1="69.10" x2="317.60" y2="69.10" stroke="#ff1a1a" stroke-opacity="0.47" stroke-width="1.2"/>
<line x1="304.15" y1="70.60" x2="317.60" y2="70.60" stroke="#ff1a1a" stroke-opacity="0.25" stroke-width="1.2"/>
<line x1="304.15" y1="72.10" x2="317.60" y2="72.10" stroke="#ff1a1a" stroke-opacity="0.32" stroke-width="1.2"/>
<line x1="304.15" y1="75.20" x2="317.60" y2="75.20" stroke="#ff1a1a" stroke-opacity="0.31" stroke-width="1.2"/>
<line x1="304.15" y1="77.20" x2="317.60" y2="77.20" stroke="#ff1a1a" stroke-opacity="0.17" stroke-width="1.2"/>
<line x1="304.15" y1="79.20" x2="317.60" y2="79.20" stroke="#ff1a1a" stroke-opacity="0.18" stroke-width="1.2"/>
<line x1="304.15" y1="80.70" x2="317.60" y2="80.70" stroke="#ff1a1a" stroke-opacity="0.40" stroke-width="1.2"/>
<line x1="317.60" y1="35.10" x2="344.50" y2="35.10" stroke="#ff1a1a" stroke-opacity="0.14" stroke-width="1.2"/>
<line x1="317.60" y1="43.10" x2="344.50" y2="43.10" stroke="#ff1a1a" stroke-opacity="0.14" stroke-width="1.2"/>
<line x1="317.60" y1="47.10" x2="344.50" y2="47.10" stroke="#ff1a1a" stroke-opacity="0.14" stroke-width="1.2"/>
<line x1="317.60" y1="51.10" x2="344.50" y2="51.10" stroke="#ff1a1a" stroke-opacity="0.14" stroke-width="1.2"/>
<line x1="317.60" y1="54.10" x2="344.50" y2="54.10" stroke="#ff1a1a" stroke-opacity="0.25" stroke-width="1.2"/>
<line x1="317.60" y1="56.10" x2="344.50" y2="56.10" stroke="#ff1a1a" stroke-opacity="0.25" stroke-width="1.2"/>
<line x1="317.60" y1="57.10" x2="344.50" y2="57.10" stroke="#ff1a1a" stroke-opacity="0.33" stroke-width="1.2"/>
<line x1="317.60" y1="58.60" x2="344.50" y2="58.60" stroke="#ff1a1a" stroke-opacity="0.23" stroke-width="1.2"/>
<line x1="317.60" y1="59.60" x2="344.50" y2="59.60" stroke="#ff1a1a" stroke-opacity="0.12" stroke-width="1.2"/>
<line x1="317.60" y1="61.10" x2="344.50" y2="61.10" stroke="#ff1a1a" stroke-opacity="0.33" stroke-width="1.2"/>
<line x1="317.60" y1="62.20" x2="344.50" y2="62.20" stroke="#ff1a1a" stroke-opacity="0.42" stroke-width="1.2"/>
<line x1="317.60" y1="64.20" x2="344.50" y2="64.20" stroke="#ff1a1a" stroke-opacity="0.66" stroke-width="1.2"/>
<line x1="317.60" y1="65.70" x2="344.50" y2="65.70" stroke="#ff1a1a" stroke-opacity="0.44" stroke-width="1.2"/>
<line x1="317.60" y1="67.20" x2="344.50" y2="67.20" stroke="#ff1a1a" stroke-opacity="0.51" stroke-width="1.2"/>
<line x1="317.60" y1="68.20" x2="344.50" y2="68.20" stroke="#ff1a1a" stroke-opacity="0.49" stroke-width="1.2"/>
<line x1="317.60" y1="70.20" x2="344.50" y2="70.20" stroke="#ff1a1a" stroke-opacity="0.21" stroke-width="1.2"/>
<line x1="317.60" y1="72.20" x2="344.50" y2="72.20" stroke="#ff1a1a" stroke-opacity="0.49" stroke-width="1.2"/>
<line x1="317.60" y1="79.20" x2="344.50" y2="79.20" stroke="#ff1a1a" stroke-opacity="0.14" stroke-width="1.2"/>
<line x1="317.60" y1="88.30" x2="344.50" y2="88.30" stroke="#ff1a1a" stroke-opacity="0.14" stroke-width="1.2"/>
<line x1="317.60" y1="94.30" x2="344.50" y2="94.30" stroke="#ff1a1a" stroke-opacity="0.14" stroke-width="1.2"/>
<line x1="344.50" y1="54.10" x2="371.40" y2="54.10" stroke="#ff1a1a" stroke-opacity="0.14" stroke-width="1.2"/>
<line x1="344.50" y1="57.20" x2="371.40" y2="57.20" stroke="#ff1a1a" stroke-opacity="0.14" stroke-width="1.2"/>
<line x1="344.50" y1="61.20" x2="371.40" y2="61.20" stroke="#ff1a1a" stroke-opacity="0.14" stroke-width="1.2"/>
<line x1="344.50" y1="65.20" x2="371.40" y2="65.20" stroke="#ff1a1a" stroke-opacity="0.35" stroke-width="1.2"/>
<line x1="344.50" y1="67.20" x2="371.40" y2="67.20" stroke="#ff1a1a" stroke-opacity="0.33" stroke-width="1.2"/>
<line x1="344.50" y1="68.70" x2="371.40" y2="68.70" stroke="#ff1a1a" stroke-opacity="0.29" stroke-width="1.2"/>
<line x1="344.50" y1="69.70" x2="371.40" y2="69.70" stroke="#ff1a1a" stroke-opacity="0.19" stroke-width="1.2"/>
<line x1="344.50" y1="71.20" x2="371.40" y2="71.20" stroke="#ff1a1a" stroke-opacity="0.58" stroke-width="1.2"/>
<line x1="344.50" y1="72.20" x2="371.40" y2="72.20" stroke="#ff1a1a" stroke-opacity="0.50" stroke-width="1.2"/>
<line x1="344.50" y1="87.30" x2="371.40" y2="87.30" stroke="#ff1a1a" stroke-opacity="0.14" stroke-width="1.2"/>
<line x1="344.50" y1="103.30" x2="371.40" y2="103.30" stroke="#ff1a1a" stroke-opacity="0.14" stroke-width="1.2"/>
<line x1="344.50" y1="105.70" x2="371.40" y2="105.70" stroke="#ff1a1a" stroke-opacity="0.14" stroke-width="1.2"/>
<line x1="371.40" y1="57.20" x2="398.30" y2="57.20" stroke="#ff1a1a" stroke-opacity="0.14" stroke-width="1.2"/>
<line x1="371.40" y1="66.20" x2="398.30" y2="66.20" stroke="#ff1a1a" stroke-opacity="0.54" stroke-width="1.2"/>
<line x1="371.40" y1="68.20" x2="398.30" y2="68.20" stroke="#ff1a1a" stroke-opacity="0.23" stroke-width="1.2"/>
<line x1="371.40" y1="69.20" x2="398.30" y2="69.20" stroke="#ff1a1a" stroke-opacity="0.34" stroke-width="1.2"/>
<line x1="371.40" y1="70.20" x2="398.30" y2="70.20" stroke="#ff1a1a" stroke-opacity="0.46" stroke-width="1.2"/>
<line x1="371.40" y1="76.20" x2="398.30" y2="76.20" stroke="#ff1a1a" stroke-opacity="0.14" stroke-width="1.2"/>
<line x1="371.40" y1="80.20" x2="398.30" y2="80.20" stroke="#ff1a1a" stroke-opacity="0.14" stroke-width="1.2"/>
<line x1="371.40" y1="85.30" x2="398.30" y2="85.30" stroke="#ff1a1a" stroke-opacity="0.16" stroke-width="1.2"/>
<line x1="371.40" y1="57.00" x2="452.10" y2="57.00" stroke="#ff1a1a" stroke-opacity="0.11" stroke-width="1.2"/>
<line x1="371.40" y1="70.40" x2="519.35" y2="70.40" stroke="#ff1a1a" stroke-opacity="0.22" stroke-width="1.2"/>
<line x1="371.40" y1="76.30" x2="425.20" y2="76.30" stroke="#ff1a1a" stroke-opacity="0.14" stroke-width="1.2"/>
<line x1="371.40" y1="89.00" x2="398.30" y2="89.00" stroke="#ff1a1a" stroke-opacity="0.14" stroke-width="1.2"/>
<line x1="371.40" y1="80.20" x2="425.20" y2="80.20" stroke="#ff1a1a" stroke-opacity="0.14" stroke-width="1.2"/>
<line x1="505.90" y1="69.00" x2="519.35" y2="69.00" stroke="#ff1a1a" stroke-opacity="0.21" stroke-width="1.2"/>
<line x1="505.90" y1="71.00" x2="519.35" y2="71.00" stroke="#ff1a1a" stroke-opacity="0.59" stroke-width="1.2"/>
<path d="M290.95,34.32 L293.67,39.27 L296.40,43.81 L299.12,47.97 L301.84,51.76 L304.56,55.20 L307.29,58.30 L310.01,61.09 L312.73,63.58 L315.46,65.79 L318.18,67.73 L320.90,69.43 L323.62,70.91 L326.35,72.17 L329.07,73.24 L331.79,74.13 L334.51,74.87 L337.24,75.45 L339.96,75.91 L342.68,76.22 L345.41,76.42 L348.13,76.50 L350.85,76.48 L353.57,76.35 L356.30,76.13 L359.02,75.83 L361.74,75.45 L364.47,75.00 L367.19,74.50 L369.91,73.93 L372.63,73.33 L375.36,72.68 L378.08,72.01 L380.80,71.31 L383.52,70.60 L386.25,69.88 L388.97,69.16 L391.69,68.46 L394.42,67.76 L397.14,67.07 L399.86,66.40 L402.58,65.74 L405.31,65.10 L408.03,64.48 L410.75,63.88 L413.48,63.29 L416.20,62.73 L418.92,62.19 L421.64,61.68 L424.37,61.19 L427.09,60.73 L429.81,60.30 L432.53,59.90 L435.26,59.52 L437.98,59.18 L440.70,58.88 L443.43,58.61 L446.15,58.37 L448.87,58.18 L451.59,58.02 L454.32,57.90 L457.04,57.82 L459.76,57.78 L462.49,57.76 L465.21,57.78 L467.93,57.82 L470.65,57.89 L473.38,57.97 L476.10,58.08 L478.82,58.20 L481.54,58.34 L484.27,58.48 L486.99,58.64 L489.71,58.80 L492.44,58.96 L495.16,59.12 L497.88,59.28 L500.60,59.44 L503.33,59.59 L506.05,59.73 L506.05,77.07 L503.33,76.45 L500.60,75.86 L497.88,75.32 L495.16,74.82 L492.44,74.36 L489.71,73.93 L486.99,73.55 L484.27,73.20 L481.54,72.88 L478.82,72.60 L476.10,72.35 L473.38,72.14 L470.65,71.96 L467.93,71.82 L465.21,71.70 L462.49,71.62 L459.76,71.57 L457.04,71.54 L454.32,71.55 L451.59,71.58 L448.87,71.64 L446.15,71.73 L443.43,71.84 L440.70,71.98 L437.98,72.14 L435.26,72.33 L432.53,72.54 L429.81,72.77 L427.09,73.03 L424.37,73.30 L421.64,73.60 L418.92,73.92 L416.20,74.25 L413.48,74.60 L410.75,74.97 L408.03,75.36 L405.31,75.76 L402.58,76.18 L399.86,76.61 L397.14,77.06 L394.42,77.52 L391.69,77.99 L388.97,78.47 L386.25,78.97 L383.52,79.47 L380.80,79.96 L378.08,80.44 L375.36,80.91 L372.63,81.36 L369.91,81.77 L367.19,82.15 L364.47,82.48 L361.74,82.77 L359.02,83.00 L356.30,83.16 L353.57,83.26 L350.85,83.28 L348.13,83.21 L345.41,83.06 L342.68,82.81 L339.96,82.46 L337.24,81.99 L334.51,81.41 L331.79,80.71 L329.07,79.87 L326.35,78.87 L323.62,77.71 L320.90,76.36 L318.18,74.79 L315.46,73.00 L312.73,70.97 L310.01,68.66 L307.29,66.08 L304.56,63.19 L301.84,59.98 L299.12,56.43 L296.40,52.53 L293.67,48.24 L290.95,43.56 Z" fill="rgb(139,211,241)" fill-opacity="0.5"/>
<path d="M290.95,39.72 L293.67,44.18 L296.40,48.30 L299.12,52.11 L301.84,55.61 L304.56,58.81 L307.29,61.73 L310.01,64.38 L312.73,66.77 L315.46,68.92 L318.18,70.84 L320.90,72.54 L323.62,74.04 L326.35,75.34 L329.07,76.45 L331.79,77.40 L334.51,78.20 L337.24,78.85 L339.96,79.36 L342.68,79.74 L345.41,80.00 L348.13,80.14 L350.85,80.19 L353.57,80.13 L356.30,79.99 L359.02,79.78 L361.74,79.49 L364.47,79.13 L367.19,78.73 L369.91,78.28 L372.63,77.79 L375.36,77.27 L378.08,76.74 L380.80,76.19 L383.52,75.63 L386.25,75.08 L388.97,74.54 L391.69,74.00 L394.42,73.47 L397.14,72.94 L399.86,72.43 L402.58,71.92 L405.31,71.43 L408.03,70.94 L410.75,70.47 L413.48,70.01 L416.20,69.56 L418.92,69.13 L421.64,68.72 L424.37,68.32 L427.09,67.94 L429.81,67.58 L432.53,67.23 L435.26,66.91 L437.98,66.61 L440.70,66.33 L443.43,66.08 L446.15,65.85 L448.87,65.64 L451.59,65.46 L454.32,65.30 L457.04,65.18 L459.76,65.08 L462.49,65.01 L465.21,64.97 L467.93,64.96 L470.65,64.99 L473.38,65.04 L476.10,65.13 L478.82,65.26 L481.54,65.42 L484.27,65.62 L486.99,65.86 L489.71,66.13 L492.44,66.45 L495.16,66.80 L497.88,67.19 L500.60,67.63 L503.33,68.11 L506.05,68.64" fill="none" stroke="#3a5fcd" stroke-width="2" stroke-linejoin="round"/>
</g>
<line x1="282.10" y1="73.94" x2="514.60" y2="73.94" stroke="#000" stroke-width="2"/>
<line x1="371.40" y1="12.95" x2="371.40" y2="115.35" stroke="#4a4a4a" stroke-width="1.1"/>
<rect x="282.10" y="12.95" width="232.50" height="102.40" fill="none" stroke="#4a4a4a" stroke-width="1.25" stroke-linejoin="round"/>
<text x="398.35" y="9.25" font-size="11" font-weight="bold" text-anchor="middle" fill="#000">E</text>
<text x="409.06" y="30.35" font-size="9.3" text-anchor="middle" fill="#000">LSC - WTD</text>
<g clip-path="url(#clipF)">
<line x1="290.70" y1="139.40" x2="304.15" y2="139.40" stroke="#ff1a1a" stroke-opacity="0.14" stroke-width="1.2"/>
<line x1="290.70" y1="148.00" x2="304.15" y2="148.00" stroke="#ff1a1a" stroke-opacity="0.24" stroke-width="1.2"/>
<line x1="290.70" y1="150.00" x2="304.15" y2="150.00" stroke="#ff1a1a" stroke-opacity="0.30" stroke-width="1.2"/>
<line x1="290.70" y1="154.00" x2="304.15" y2="154.00" stroke="#ff1a1a" stroke-opacity="0.17" stroke-width="1.2"/>
<line x1="290.70" y1="155.00" x2="304.15" y2="155.00" stroke="#ff1a1a" stroke-opacity="0.11" stroke-width="1.2"/>
<line x1="290.70" y1="156.50" x2="304.15" y2="156.50" stroke="#ff1a1a" stroke-opacity="0.10" stroke-width="1.2"/>
<line x1="290.70" y1="164.10" x2="304.15" y2="164.10" stroke="#ff1a1a" stroke-opacity="0.14" stroke-width="1.2"/>
<line x1="290.70" y1="175.10" x2="304.15" y2="175.10" stroke="#ff1a1a" stroke-opacity="0.16" stroke-width="1.2"/>
<line x1="290.70" y1="178.10" x2="304.15" y2="178.10" stroke="#ff1a1a" stroke-opacity="0.16" stroke-width="1.2"/>
<line x1="290.70" y1="188.20" x2="304.15" y2="188.20" stroke="#ff1a1a" stroke-opacity="0.16" stroke-width="1.2"/>
<line x1="290.70" y1="160.70" x2="317.60" y2="160.70" stroke="#ff1a1a" stroke-opacity="0.14" stroke-width="1.2"/>
<line x1="290.70" y1="170.10" x2="317.60" y2="170.10" stroke="#ff1a1a" stroke-opacity="0.14" stroke-width="1.2"/>
<line x1="317.60" y1="164.70" x2="344.50" y2="164.70" stroke="#ff1a1a" stroke-opacity="0.14" stroke-width="1.2"/>
<line x1="317.60" y1="169.10" x2="344.50" y2="169.10" stroke="#ff1a1a" stroke-opacity="0.14" stroke-width="1.2"/>
<line x1="317.60" y1="174.10" x2="344.50" y2="174.10" stroke="#ff1a1a" stroke-opacity="0.14" stroke-width="1.2"/>
<line x1="304.15" y1="173.10" x2="331.05" y2="173.10" stroke="#ff1a1a" stroke-opacity="0.14" stroke-width="1.2"/>
<line x1="344.50" y1="183.20" x2="371.40" y2="183.20" stroke="#ff1a1a" stroke-opacity="0.14" stroke-width="1.2"/>
<line x1="290.70" y1="188.20" x2="344.50" y2="188.20" stroke="#ff1a1a" stroke-opacity="0.11" stroke-width="1.2"/>
<line x1="304.15" y1="191.20" x2="344.50" y2="191.20" stroke="#ff1a1a" stroke-opacity="0.14" stroke-width="1.2"/>
<line x1="304.15" y1="193.20" x2="344.50" y2="193.20" stroke="#ff1a1a" stroke-opacity="0.14" stroke-width="1.2"/>
<line x1="304.15" y1="195.20" x2="371.40" y2="195.20" stroke="#ff1a1a" stroke-opacity="0.15" stroke-width="1.2"/>
<line x1="304.15" y1="196.20" x2="371.40" y2="196.20" stroke="#ff1a1a" stroke-opacity="0.27" stroke-width="1.2"/>
<line x1="290.70" y1="200.20" x2="304.15" y2="200.20" stroke="#ff1a1a" stroke-opacity="0.14" stroke-width="1.2"/>
<line x1="290.70" y1="206.20" x2="304.15" y2="206.20" stroke="#ff1a1a" stroke-opacity="0.14" stroke-width="1.2"/>
<line x1="317.60" y1="200.20" x2="371.40" y2="200.20" stroke="#ff1a1a" stroke-opacity="0.20" stroke-width="1.2"/>
<line x1="317.60" y1="201.70" x2="371.40" y2="201.70" stroke="#ff1a1a" stroke-opacity="0.12" stroke-width="1.2"/>
<line x1="317.60" y1="205.20" x2="371.40" y2="205.20" stroke="#ff1a1a" stroke-opacity="0.12" stroke-width="1.2"/>
<line x1="317.60" y1="207.20" x2="371.40" y2="207.20" stroke="#ff1a1a" stroke-opacity="0.16" stroke-width="1.2"/>
<line x1="317.60" y1="208.70" x2="371.40" y2="208.70" stroke="#ff1a1a" stroke-opacity="0.26" stroke-width="1.2"/>
<line x1="304.15" y1="211.30" x2="331.05" y2="211.30" stroke="#ff1a1a" stroke-opacity="0.16" stroke-width="1.2"/>
<line x1="304.15" y1="214.30" x2="317.60" y2="214.30" stroke="#ff1a1a" stroke-opacity="0.16" stroke-width="1.2"/>
<line x1="331.05" y1="216.90" x2="344.50" y2="216.90" stroke="#ff1a1a" stroke-opacity="0.14" stroke-width="1.2"/>
<line x1="344.50" y1="213.30" x2="371.40" y2="213.30" stroke="#ff1a1a" stroke-opacity="0.14" stroke-width="1.2"/>
<path d="M290.95,122.03 L293.68,127.58 L296.40,132.87 L299.13,137.91 L301.86,142.70 L304.58,147.25 L307.31,151.56 L310.04,155.64 L312.76,159.49 L315.49,163.11 L318.22,166.52 L320.94,169.71 L323.67,172.70 L326.40,175.49 L329.12,178.07 L331.85,180.46 L334.58,182.67 L337.30,184.69 L340.03,186.54 L342.76,188.22 L345.48,189.74 L348.21,191.11 L350.93,192.33 L353.66,193.40 L356.39,194.35 L359.11,195.16 L361.84,195.86 L364.57,196.45 L367.29,196.92 L370.02,197.30 L372.75,197.59 L375.47,197.79 L378.20,197.91 L380.93,197.96 L383.65,197.94 L386.38,197.87 L389.11,197.75 L391.83,197.58 L394.56,197.36 L397.29,197.09 L400.01,196.76 L402.74,196.37 L405.47,195.92 L408.19,195.39 L410.92,194.79 L413.65,194.11 L416.37,193.35 L419.10,192.50 L421.83,191.56 L424.55,190.52 L427.28,189.38 L430.01,188.14 L432.73,186.78 L435.46,185.31 L438.19,183.72 L440.91,182.01 L443.64,180.17 L446.37,178.19 L449.09,176.08 L451.82,173.84 L454.54,171.48 L457.27,169.00 L460.00,166.42 L462.72,163.73 L465.45,160.95 L468.18,158.09 L470.90,155.15 L473.63,152.14 L476.36,149.06 L479.08,145.93 L481.81,142.75 L484.54,139.54 L487.26,136.29 L489.99,133.01 L492.72,129.71 L495.44,126.41 L498.17,123.10 L500.90,119.80 L503.62,116.51 L506.35,113.24 L506.35,240.58 L503.62,240.56 L500.90,240.37 L498.17,240.05 L495.44,239.60 L492.72,239.05 L489.99,238.41 L487.26,237.69 L484.54,236.91 L481.81,236.09 L479.08,235.23 L476.36,234.37 L473.63,233.50 L470.90,232.66 L468.18,231.84 L465.45,231.08 L462.72,230.38 L460.00,229.76 L457.27,229.23 L454.54,228.80 L451.82,228.49 L449.09,228.31 L446.37,228.26 L443.64,228.36 L440.91,228.56 L438.19,228.82 L435.46,229.09 L432.73,229.33 L430.01,229.55 L427.28,229.76 L424.55,229.94 L421.83,230.09 L419.10,230.23 L416.37,230.35 L413.65,230.45 L410.92,230.53 L408.19,230.59 L405.47,230.63 L402.74,230.65 L400.01,230.66 L397.29,230.64 L394.56,230.61 L391.83,230.55 L389.11,230.45 L386.38,230.30 L383.65,230.08 L380.93,229.77 L378.20,229.37 L375.47,228.85 L372.75,228.21 L370.02,227.44 L367.29,226.52 L364.57,225.50 L361.84,224.38 L359.11,223.20 L356.39,221.94 L353.66,220.61 L350.93,219.19 L348.21,217.67 L345.48,216.05 L342.76,214.31 L340.03,212.45 L337.30,210.45 L334.58,208.31 L331.85,206.02 L329.12,203.58 L326.40,200.96 L323.67,198.18 L320.94,195.27 L318.22,192.29 L315.49,189.30 L312.76,186.35 L310.04,183.51 L307.31,180.83 L304.58,178.36 L301.86,176.17 L299.13,174.31 L296.40,172.84 L293.68,171.81 L290.95,171.28 Z" fill="rgb(139,211,241)" fill-opacity="0.5"/>
<path d="M290.95,145.47 L293.68,148.73 L296.40,152.00 L299.13,155.25 L301.86,158.49 L304.58,161.69 L307.31,164.87 L310.04,168.00 L312.76,171.08 L315.49,174.10 L318.22,177.05 L320.94,179.94 L323.67,182.74 L326.40,185.45 L329.12,188.07 L331.85,190.58 L334.58,192.98 L337.30,195.26 L340.03,197.42 L342.76,199.44 L345.48,201.32 L348.21,203.06 L350.93,204.67 L353.66,206.16 L356.39,207.52 L359.11,208.76 L361.84,209.88 L364.57,210.88 L367.29,211.78 L370.02,212.56 L372.75,213.24 L375.47,213.82 L378.20,214.30 L380.93,214.69 L383.65,214.98 L386.38,215.18 L389.11,215.30 L391.83,215.34 L394.56,215.30 L397.29,215.18 L400.01,214.99 L402.74,214.74 L405.47,214.41 L408.19,214.03 L410.92,213.58 L413.65,213.08 L416.37,212.53 L419.10,211.93 L421.83,211.28 L424.55,210.58 L427.28,209.85 L430.01,209.07 L432.73,208.26 L435.46,207.42 L438.19,206.55 L440.91,205.65 L443.64,204.73 L446.37,203.79 L449.09,202.83 L451.82,201.86 L454.54,200.88 L457.27,199.88 L460.00,198.89 L462.72,197.88 L465.45,196.88 L468.18,195.89 L470.90,194.89 L473.63,193.91 L476.36,192.94 L479.08,191.99 L481.81,191.05 L484.54,190.14 L487.26,189.25 L489.99,188.38 L492.72,187.55 L495.44,186.75 L498.17,185.98 L500.90,185.26 L503.62,184.57 L506.35,183.93" fill="none" stroke="#3a5fcd" stroke-width="2" stroke-linejoin="round"/>
</g>
<line x1="282.10" y1="198.14" x2="514.60" y2="198.14" stroke="#000" stroke-width="2"/>
<line x1="371.40" y1="137.15" x2="371.40" y2="239.55" stroke="#4a4a4a" stroke-width="1.1"/>
<rect x="282.10" y="137.15" width="232.50" height="102.40" fill="none" stroke="#4a4a4a" stroke-width="1.25" stroke-linejoin="round"/>
<text x="398.35" y="133.45" font-size="11" font-weight="bold" text-anchor="middle" fill="#000">F</text>
<text x="409.06" y="154.55" font-size="9.3" text-anchor="middle" fill="#000">S - WTD</text>
<g clip-path="url(#clipG)">
<line x1="290.70" y1="263.40" x2="304.15" y2="263.40" stroke="#ff1a1a" stroke-opacity="0.14" stroke-width="1.2"/>
<line x1="290.70" y1="267.40" x2="304.15" y2="267.40" stroke="#ff1a1a" stroke-opacity="0.14" stroke-width="1.2"/>
<line x1="290.70" y1="273.40" x2="304.15" y2="273.40" stroke="#ff1a1a" stroke-opacity="0.16" stroke-width="1.2"/>
<line x1="290.70" y1="275.10" x2="304.15" y2="275.10" stroke="#ff1a1a" stroke-opacity="0.14" stroke-width="1.2"/>
<line x1="290.70" y1="288.10" x2="304.15" y2="288.10" stroke="#ff1a1a" stroke-opacity="0.14" stroke-width="1.2"/>
<line x1="290.70" y1="294.10" x2="304.15" y2="294.10" stroke="#ff1a1a" stroke-opacity="0.14" stroke-width="1.2"/>
<line x1="290.70" y1="344.30" x2="304.15" y2="344.30" stroke="#ff1a1a" stroke-opacity="0.16" stroke-width="1.2"/>
<line x1="290.70" y1="284.10" x2="331.05" y2="284.10" stroke="#ff1a1a" stroke-opacity="0.11" stroke-width="1.2"/>
<line x1="290.70" y1="289.10" x2="331.05" y2="289.10" stroke="#ff1a1a" stroke-opacity="0.11" stroke-width="1.2"/>
<line x1="290.70" y1="300.10" x2="317.60" y2="300.10" stroke="#ff1a1a" stroke-opacity="0.09" stroke-width="1.2"/>
<line x1="290.70" y1="301.10" x2="317.60" y2="301.10" stroke="#ff1a1a" stroke-opacity="0.07" stroke-width="1.2"/>
<line x1="290.70" y1="305.60" x2="317.60" y2="305.60" stroke="#ff1a1a" stroke-opacity="0.14" stroke-width="1.2"/>
<line x1="290.70" y1="310.80" x2="317.60" y2="310.80" stroke="#ff1a1a" stroke-opacity="0.14" stroke-width="1.2"/>
<line x1="317.60" y1="298.10" x2="344.50" y2="298.10" stroke="#ff1a1a" stroke-opacity="0.19" stroke-width="1.2"/>
<line x1="317.60" y1="299.10" x2="344.50" y2="299.10" stroke="#ff1a1a" stroke-opacity="0.07" stroke-width="1.2"/>
<line x1="317.60" y1="301.10" x2="344.50" y2="301.10" stroke="#ff1a1a" stroke-opacity="0.08" stroke-width="1.2"/>
<line x1="290.70" y1="306.20" x2="344.50" y2="306.20" stroke="#ff1a1a" stroke-opacity="0.11" stroke-width="1.2"/>
<line x1="290.70" y1="314.20" x2="317.60" y2="314.20" stroke="#ff1a1a" stroke-opacity="0.20" stroke-width="1.2"/>
<line x1="290.70" y1="315.20" x2="317.60" y2="315.20" stroke="#ff1a1a" stroke-opacity="0.21" stroke-width="1.2"/>
<line x1="290.70" y1="316.20" x2="317.60" y2="316.20" stroke="#ff1a1a" stroke-opacity="0.15" stroke-width="1.2"/>
<line x1="290.70" y1="318.20" x2="317.60" y2="318.20" stroke="#ff1a1a" stroke-opacity="0.18" stroke-width="1.2"/>
<line x1="317.60" y1="307.20" x2="371.40" y2="307.20" stroke="#ff1a1a" stroke-opacity="0.14" stroke-width="1.2"/>
<line x1="317.60" y1="316.20" x2="371.40" y2="316.20" stroke="#ff1a1a" stroke-opacity="0.14" stroke-width="1.2"/>
<line x1="317.60" y1="319.20" x2="371.40" y2="319.20" stroke="#ff1a1a" stroke-opacity="0.14" stroke-width="1.2"/>
<line x1="317.60" y1="311.20" x2="371.40" y2="311.20" stroke="#ff1a1a" stroke-opacity="0.11" stroke-width="1.2"/>
<line x1="304.15" y1="323.20" x2="331.05" y2="323.20" stroke="#ff1a1a" stroke-opacity="0.12" stroke-width="1.2"/>
<line x1="304.15" y1="325.20" x2="331.05" y2="325.20" stroke="#ff1a1a" stroke-opacity="0.06" stroke-width="1.2"/>
<line x1="304.15" y1="326.20" x2="331.05" y2="326.20" stroke="#ff1a1a" stroke-opacity="0.14" stroke-width="1.2"/>
<line x1="304.15" y1="327.70" x2="331.05" y2="327.70" stroke="#ff1a1a" stroke-opacity="0.15" stroke-width="1.2"/>
<line x1="331.05" y1="330.20" x2="371.40" y2="330.20" stroke="#ff1a1a" stroke-opacity="0.14" stroke-width="1.2"/>
<line x1="331.05" y1="331.20" x2="371.40" y2="331.20" stroke="#ff1a1a" stroke-opacity="0.07" stroke-width="1.2"/>
<line x1="331.05" y1="332.20" x2="371.40" y2="332.20" stroke="#ff1a1a" stroke-opacity="0.12" stroke-width="1.2"/>
<line x1="331.05" y1="333.70" x2="371.40" y2="333.70" stroke="#ff1a1a" stroke-opacity="0.06" stroke-width="1.2"/>
<line x1="331.05" y1="334.70" x2="371.40" y2="334.70" stroke="#ff1a1a" stroke-opacity="0.19" stroke-width="1.2"/>
<line x1="331.05" y1="335.70" x2="371.40" y2="335.70" stroke="#ff1a1a" stroke-opacity="0.10" stroke-width="1.2"/>
<line x1="331.05" y1="341.30" x2="371.40" y2="341.30" stroke="#ff1a1a" stroke-opacity="0.14" stroke-width="1.2"/>
<line x1="371.40" y1="314.20" x2="398.30" y2="314.20" stroke="#ff1a1a" stroke-opacity="0.14" stroke-width="1.2"/>
<line x1="371.40" y1="319.20" x2="398.30" y2="319.20" stroke="#ff1a1a" stroke-opacity="0.14" stroke-width="1.2"/>
<line x1="371.40" y1="325.20" x2="398.30" y2="325.20" stroke="#ff1a1a" stroke-opacity="0.14" stroke-width="1.2"/>
<line x1="371.40" y1="336.30" x2="398.30" y2="336.30" stroke="#ff1a1a" stroke-opacity="0.14" stroke-width="1.2"/>
<line x1="452.10" y1="284.10" x2="479.00" y2="284.10" stroke="#ff1a1a" stroke-opacity="0.14" stroke-width="1.2"/>
<line x1="371.40" y1="314.20" x2="384.85" y2="314.20" stroke="#ff1a1a" stroke-opacity="0.14" stroke-width="1.2"/>
<line x1="371.40" y1="326.30" x2="425.20" y2="326.30" stroke="#ff1a1a" stroke-opacity="0.14" stroke-width="1.2"/>
<line x1="371.40" y1="332.30" x2="425.20" y2="332.30" stroke="#ff1a1a" stroke-opacity="0.14" stroke-width="1.2"/>
<line x1="371.40" y1="341.30" x2="425.20" y2="341.30" stroke="#ff1a1a" stroke-opacity="0.14" stroke-width="1.2"/>
<line x1="371.40" y1="337.30" x2="384.85" y2="337.30" stroke="#ff1a1a" stroke-opacity="0.18" stroke-width="1.2"/>
<line x1="425.20" y1="323.70" x2="479.00" y2="323.70" stroke="#ff1a1a" stroke-opacity="0.11" stroke-width="1.2"/>
<line x1="479.00" y1="344.30" x2="505.90" y2="344.30" stroke="#ff1a1a" stroke-opacity="0.14" stroke-width="1.2"/>
<path d="M290.95,263.15 L293.67,269.51 L296.40,275.42 L299.12,280.89 L301.84,285.93 L304.56,290.56 L307.29,294.80 L310.01,298.67 L312.73,302.18 L315.46,305.35 L318.18,308.21 L320.90,310.75 L323.62,313.02 L326.35,315.01 L329.07,316.75 L331.79,318.26 L334.51,319.56 L337.24,320.67 L339.96,321.63 L342.68,322.46 L345.41,323.13 L348.13,323.65 L350.85,323.99 L353.57,324.14 L356.30,324.09 L359.02,323.88 L361.74,323.50 L364.47,323.00 L367.19,322.37 L369.91,321.64 L372.63,320.84 L375.36,319.97 L378.08,319.06 L380.80,318.13 L383.52,317.19 L386.25,316.26 L388.97,315.37 L391.69,314.53 L394.42,313.74 L397.14,313.00 L399.86,312.31 L402.58,311.67 L405.31,311.07 L408.03,310.53 L410.75,310.03 L413.48,309.57 L416.20,309.16 L418.92,308.79 L421.64,308.45 L424.37,308.16 L427.09,307.91 L429.81,307.70 L432.53,307.52 L435.26,307.37 L437.98,307.26 L440.70,307.18 L443.43,307.13 L446.15,307.12 L448.87,307.13 L451.59,307.16 L454.32,307.23 L457.04,307.32 L459.76,307.43 L462.49,307.57 L465.21,307.73 L467.93,307.91 L470.65,308.10 L473.38,308.32 L476.10,308.55 L478.82,308.80 L481.54,309.06 L484.27,309.34 L486.99,309.63 L489.71,309.92 L492.44,310.23 L495.16,310.55 L497.88,310.87 L500.60,311.20 L503.33,311.54 L506.05,311.88 L506.05,332.99 L503.33,332.17 L500.60,331.39 L497.88,330.64 L495.16,329.92 L492.44,329.23 L489.71,328.57 L486.99,327.95 L484.27,327.36 L481.54,326.80 L478.82,326.28 L476.10,325.78 L473.38,325.32 L470.65,324.88 L467.93,324.48 L465.21,324.11 L462.49,323.78 L459.76,323.47 L457.04,323.19 L454.32,322.95 L451.59,322.73 L448.87,322.55 L446.15,322.40 L443.43,322.28 L440.70,322.19 L437.98,322.13 L435.26,322.10 L432.53,322.10 L429.81,322.13 L427.09,322.19 L424.37,322.28 L421.64,322.40 L418.92,322.56 L416.20,322.74 L413.48,322.95 L410.75,323.19 L408.03,323.46 L405.31,323.76 L402.58,324.09 L399.86,324.45 L397.14,324.84 L394.42,325.25 L391.69,325.70 L388.97,326.17 L386.25,326.68 L383.52,327.19 L380.80,327.72 L378.08,328.23 L375.36,328.74 L372.63,329.21 L369.91,329.64 L367.19,330.03 L364.47,330.35 L361.74,330.61 L359.02,330.78 L356.30,330.85 L353.57,330.83 L350.85,330.68 L348.13,330.41 L345.41,330.01 L342.68,329.45 L339.96,328.73 L337.24,327.85 L334.51,326.78 L331.79,325.52 L329.07,324.05 L326.35,322.37 L323.62,320.48 L320.90,318.37 L318.18,316.04 L315.46,313.47 L312.73,310.68 L310.01,307.66 L307.29,304.40 L304.56,300.91 L301.84,297.20 L299.12,293.26 L296.40,289.11 L293.67,284.73 L290.95,280.13 Z" fill="rgb(139,211,241)" fill-opacity="0.5"/>
<path d="M290.95,271.00 L293.67,276.64 L296.40,281.92 L299.12,286.84 L301.84,291.41 L304.56,295.65 L307.29,299.57 L310.01,303.18 L312.73,306.48 L315.46,309.49 L318.18,312.23 L320.90,314.69 L323.62,316.91 L326.35,318.87 L329.07,320.60 L331.79,322.11 L334.51,323.41 L337.24,324.50 L339.96,325.41 L342.68,326.13 L345.41,326.69 L348.13,327.09 L350.85,327.35 L353.57,327.48 L356.30,327.48 L359.02,327.36 L361.74,327.15 L364.47,326.85 L367.19,326.47 L369.91,326.02 L372.63,325.52 L375.36,324.97 L378.08,324.39 L380.80,323.78 L383.52,323.17 L386.25,322.55 L388.97,321.94 L391.69,321.36 L394.42,320.80 L397.14,320.26 L399.86,319.74 L402.58,319.26 L405.31,318.79 L408.03,318.35 L410.75,317.94 L413.48,317.56 L416.20,317.20 L418.92,316.86 L421.64,316.56 L424.37,316.28 L427.09,316.03 L429.81,315.81 L432.53,315.62 L435.26,315.46 L437.98,315.33 L440.70,315.23 L443.43,315.16 L446.15,315.12 L448.87,315.11 L451.59,315.13 L454.32,315.18 L457.04,315.27 L459.76,315.39 L462.49,315.54 L465.21,315.73 L467.93,315.95 L470.65,316.20 L473.38,316.49 L476.10,316.82 L478.82,317.18 L481.54,317.57 L484.27,318.00 L486.99,318.47 L489.71,318.98 L492.44,319.52 L495.16,320.10 L497.88,320.72 L500.60,321.37 L503.33,322.07 L506.05,322.80" fill="none" stroke="#3a5fcd" stroke-width="2" stroke-linejoin="round"/>
</g>
<line x1="282.10" y1="322.34" x2="514.60" y2="322.34" stroke="#000" stroke-width="2"/>
<line x1="371.40" y1="261.35" x2="371.40" y2="363.75" stroke="#4a4a4a" stroke-width="1.1"/>
<rect x="282.10" y="261.35" width="232.50" height="102.40" fill="none" stroke="#4a4a4a" stroke-width="1.25" stroke-linejoin="round"/>
<text x="398.35" y="257.65" font-size="11" font-weight="bold" text-anchor="middle" fill="#000">G</text>
<text x="409.06" y="278.75" font-size="9.3" text-anchor="middle" fill="#000">LSC - WTM</text>
<g clip-path="url(#clipH)">
<line x1="290.70" y1="394.00" x2="304.15" y2="394.00" stroke="#ff1a1a" stroke-opacity="0.11" stroke-width="1.2"/>
<line x1="304.15" y1="408.00" x2="317.60" y2="408.00" stroke="#ff1a1a" stroke-opacity="0.11" stroke-width="1.2"/>
<line x1="290.70" y1="411.10" x2="317.60" y2="411.10" stroke="#ff1a1a" stroke-opacity="0.11" stroke-width="1.2"/>
<line x1="290.70" y1="417.10" x2="304.15" y2="417.10" stroke="#ff1a1a" stroke-opacity="0.14" stroke-width="1.2"/>
<line x1="290.70" y1="422.10" x2="298.77" y2="422.10" stroke="#ff1a1a" stroke-opacity="0.11" stroke-width="1.2"/>
<line x1="304.15" y1="428.20" x2="317.60" y2="428.20" stroke="#ff1a1a" stroke-opacity="0.11" stroke-width="1.2"/>
<line x1="290.70" y1="431.20" x2="344.50" y2="431.20" stroke="#ff1a1a" stroke-opacity="0.14" stroke-width="1.2"/>
<line x1="290.70" y1="435.60" x2="317.60" y2="435.60" stroke="#ff1a1a" stroke-opacity="0.14" stroke-width="1.2"/>
<line x1="290.70" y1="437.20" x2="304.15" y2="437.20" stroke="#ff1a1a" stroke-opacity="0.14" stroke-width="1.2"/>
<line x1="290.70" y1="438.20" x2="331.05" y2="438.20" stroke="#ff1a1a" stroke-opacity="0.16" stroke-width="1.2"/>
<line x1="304.15" y1="441.20" x2="331.05" y2="441.20" stroke="#ff1a1a" stroke-opacity="0.14" stroke-width="1.2"/>
<line x1="290.70" y1="446.20" x2="331.05" y2="446.20" stroke="#ff1a1a" stroke-opacity="0.22" stroke-width="1.2"/>
<line x1="331.05" y1="436.20" x2="371.40" y2="436.20" stroke="#ff1a1a" stroke-opacity="0.11" stroke-width="1.2"/>
<line x1="331.05" y1="453.60" x2="357.95" y2="453.60" stroke="#ff1a1a" stroke-opacity="0.14" stroke-width="1.2"/>
<line x1="398.30" y1="441.20" x2="452.10" y2="441.20" stroke="#ff1a1a" stroke-opacity="0.11" stroke-width="1.2"/>
<path d="M290.95,358.80 L293.68,365.76 L296.40,372.39 L299.13,378.68 L301.86,384.65 L304.58,390.30 L307.31,395.62 L310.04,400.63 L312.76,405.32 L315.49,409.70 L318.22,413.76 L320.94,417.53 L323.67,420.98 L326.40,424.14 L329.12,427.00 L331.85,429.59 L334.58,431.91 L337.30,433.99 L340.03,435.83 L342.76,437.47 L345.48,438.91 L348.21,440.18 L350.93,441.28 L353.66,442.25 L356.39,443.08 L359.11,443.81 L361.84,444.44 L364.57,444.99 L367.29,445.44 L370.02,445.80 L372.75,446.08 L375.47,446.26 L378.20,446.36 L380.93,446.38 L383.65,446.30 L386.38,446.14 L389.11,445.90 L391.83,445.57 L394.56,445.16 L397.29,444.67 L400.01,444.09 L402.74,443.43 L405.47,442.69 L408.19,441.87 L410.92,440.97 L413.65,439.99 L416.37,438.93 L419.10,437.80 L421.83,436.59 L424.55,435.30 L427.28,433.93 L430.01,432.49 L432.73,430.97 L435.46,429.38 L438.19,427.72 L440.91,425.99 L443.64,424.18 L446.37,422.32 L449.09,420.39 L451.82,418.40 L454.54,416.35 L457.27,414.26 L460.00,412.11 L462.72,409.92 L465.45,407.68 L468.18,405.41 L470.90,403.10 L473.63,400.75 L476.36,398.38 L479.08,395.97 L481.81,393.55 L484.54,391.10 L487.26,388.63 L489.99,386.15 L492.72,383.66 L495.44,381.16 L498.17,378.65 L500.90,376.15 L503.62,373.64 L506.35,371.14 L506.05,500.44 L503.34,499.12 L500.62,497.82 L497.91,496.56 L495.19,495.32 L492.48,494.11 L489.77,492.94 L487.05,491.80 L484.34,490.69 L481.62,489.62 L478.91,488.58 L476.20,487.58 L473.48,486.63 L470.77,485.71 L468.06,484.83 L465.34,484.00 L462.63,483.21 L459.91,482.46 L457.20,481.77 L454.49,481.12 L451.77,480.52 L449.06,479.97 L446.34,479.47 L443.63,479.02 L440.92,478.63 L438.20,478.29 L435.49,478.02 L432.77,477.79 L430.06,477.62 L427.35,477.48 L424.63,477.38 L421.92,477.30 L419.20,477.24 L416.49,477.18 L413.78,477.12 L411.06,477.05 L408.35,476.97 L405.63,476.85 L402.92,476.71 L400.21,476.53 L397.49,476.31 L394.78,476.06 L392.07,475.79 L389.35,475.49 L386.64,475.16 L383.92,474.81 L381.21,474.44 L378.50,474.05 L375.78,473.65 L373.07,473.23 L370.35,472.80 L367.64,472.36 L364.93,471.87 L362.21,471.33 L359.50,470.70 L356.78,469.97 L354.07,469.11 L351.36,468.10 L348.64,466.93 L345.93,465.56 L343.21,463.98 L340.50,462.16 L337.79,460.09 L335.07,457.75 L332.36,455.11 L329.64,452.15 L326.93,448.85 L324.22,445.20 L321.50,441.25 L318.79,437.10 L316.08,432.83 L313.36,428.55 L310.65,424.34 L307.93,420.31 L305.22,416.53 L302.51,413.12 L299.79,410.16 L297.08,407.74 L294.36,405.96 L291.65,404.91 Z" fill="rgb(139,211,241)" fill-opacity="0.5"/>
<path d="M289.35,376.15 L292.09,381.24 L294.84,386.15 L297.58,390.91 L300.32,395.50 L303.07,399.93 L305.81,404.20 L308.55,408.30 L311.29,412.24 L314.04,416.02 L316.78,419.64 L319.52,423.10 L322.27,426.39 L325.01,429.53 L327.75,432.50 L330.50,435.32 L333.24,437.98 L335.98,440.49 L338.72,442.85 L341.47,445.07 L344.21,447.14 L346.95,449.06 L349.70,450.86 L352.44,452.51 L355.18,454.04 L357.93,455.43 L360.67,456.70 L363.41,457.85 L366.16,458.87 L368.90,459.78 L371.64,460.58 L374.38,461.26 L377.13,461.84 L379.87,462.32 L382.61,462.69 L385.36,462.98 L388.10,463.17 L390.84,463.27 L393.59,463.30 L396.33,463.25 L399.07,463.12 L401.81,462.93 L404.56,462.67 L407.30,462.35 L410.04,461.97 L412.79,461.54 L415.53,461.07 L418.27,460.55 L421.02,459.99 L423.76,459.39 L426.50,458.77 L429.24,458.11 L431.99,457.44 L434.73,456.74 L437.47,456.03 L440.22,455.31 L442.96,454.58 L445.70,453.84 L448.45,453.08 L451.19,452.32 L453.93,451.55 L456.68,450.77 L459.42,449.99 L462.16,449.20 L464.90,448.40 L467.65,447.60 L470.39,446.80 L473.13,446.00 L475.88,445.19 L478.62,444.39 L481.36,443.58 L484.11,442.78 L486.85,441.97 L489.59,441.17 L492.33,440.37 L495.08,439.58 L497.82,438.79 L500.56,438.01 L503.31,437.24 L506.05,436.47" fill="none" stroke="#3a5fcd" stroke-width="2" stroke-linejoin="round"/>
</g>
<line x1="282.10" y1="446.54" x2="514.60" y2="446.54" stroke="#000" stroke-width="2"/>
<line x1="371.40" y1="385.55" x2="371.40" y2="487.95" stroke="#4a4a4a" stroke-width="1.1"/>
<rect x="282.10" y="385.55" width="232.50" height="102.40" fill="none" stroke="#4a4a4a" stroke-width="1.25" stroke-linejoin="round"/>
<text x="398.35" y="381.85" font-size="11" font-weight="bold" text-anchor="middle" fill="#000">H</text>
<text x="409.06" y="402.95" font-size="9.3" text-anchor="middle" fill="#000">S - WTM</text>
<g clip-path="url(#clipI)">
<line x1="531.70" y1="28.10" x2="545.15" y2="28.10" stroke="#ff1a1a" stroke-opacity="0.14" stroke-width="1.2"/>
<line x1="531.70" y1="35.10" x2="545.15" y2="35.10" stroke="#ff1a1a" stroke-opacity="0.16" stroke-width="1.2"/>
<line x1="531.70" y1="44.10" x2="545.15" y2="44.10" stroke="#ff1a1a" stroke-opacity="0.16" stroke-width="1.2"/>
<line x1="531.70" y1="50.10" x2="545.15" y2="50.10" stroke="#ff1a1a" stroke-opacity="0.14" stroke-width="1.2"/>
<line x1="531.70" y1="62.00" x2="545.15" y2="62.00" stroke="#ff1a1a" stroke-opacity="0.14" stroke-width="1.2"/>
<line x1="531.70" y1="64.00" x2="545.15" y2="64.00" stroke="#ff1a1a" stroke-opacity="0.16" stroke-width="1.2"/>
<line x1="531.70" y1="65.00" x2="545.15" y2="65.00" stroke="#ff1a1a" stroke-opacity="0.27" stroke-width="1.2"/>
<line x1="531.70" y1="66.50" x2="545.15" y2="66.50" stroke="#ff1a1a" stroke-opacity="0.25" stroke-width="1.2"/>
<line x1="531.70" y1="68.50" x2="545.15" y2="68.50" stroke="#ff1a1a" stroke-opacity="0.16" stroke-width="1.2"/>
<line x1="531.70" y1="70.00" x2="545.15" y2="70.00" stroke="#ff1a1a" stroke-opacity="0.16" stroke-width="1.2"/>
<line x1="531.70" y1="72.00" x2="545.15" y2="72.00" stroke="#ff1a1a" stroke-opacity="0.26" stroke-width="1.2"/>
<line x1="531.70" y1="74.00" x2="545.15" y2="74.00" stroke="#ff1a1a" stroke-opacity="0.17" stroke-width="1.2"/>
<line x1="531.70" y1="75.00" x2="545.15" y2="75.00" stroke="#ff1a1a" stroke-opacity="0.15" stroke-width="1.2"/>
<line x1="531.70" y1="76.50" x2="545.15" y2="76.50" stroke="#ff1a1a" stroke-opacity="0.23" stroke-width="1.2"/>
<line x1="531.70" y1="78.50" x2="545.15" y2="78.50" stroke="#ff1a1a" stroke-opacity="0.10" stroke-width="1.2"/>
<line x1="531.70" y1="79.50" x2="545.15" y2="79.50" stroke="#ff1a1a" stroke-opacity="0.24" stroke-width="1.2"/>
<line x1="531.70" y1="81.00" x2="545.15" y2="81.00" stroke="#ff1a1a" stroke-opacity="0.22" stroke-width="1.2"/>
<line x1="531.70" y1="38.10" x2="585.50" y2="38.10" stroke="#ff1a1a" stroke-opacity="0.11" stroke-width="1.2"/>
<line x1="572.05" y1="27.50" x2="612.40" y2="27.50" stroke="#ff1a1a" stroke-opacity="0.14" stroke-width="1.2"/>
<line x1="531.70" y1="43.10" x2="558.60" y2="43.10" stroke="#ff1a1a" stroke-opacity="0.14" stroke-width="1.2"/>
<line x1="531.70" y1="47.10" x2="558.60" y2="47.10" stroke="#ff1a1a" stroke-opacity="0.14" stroke-width="1.2"/>
<line x1="531.70" y1="51.10" x2="572.05" y2="51.10" stroke="#ff1a1a" stroke-opacity="0.14" stroke-width="1.2"/>
<line x1="531.70" y1="56.20" x2="572.05" y2="56.20" stroke="#ff1a1a" stroke-opacity="0.47" stroke-width="1.2"/>
<line x1="531.70" y1="57.20" x2="572.05" y2="57.20" stroke="#ff1a1a" stroke-opacity="0.34" stroke-width="1.2"/>
<line x1="572.05" y1="59.20" x2="612.40" y2="59.20" stroke="#ff1a1a" stroke-opacity="0.14" stroke-width="1.2"/>
<line x1="572.05" y1="61.20" x2="612.40" y2="61.20" stroke="#ff1a1a" stroke-opacity="0.14" stroke-width="1.2"/>
<line x1="572.05" y1="63.60" x2="612.40" y2="63.60" stroke="#ff1a1a" stroke-opacity="0.14" stroke-width="1.2"/>
<line x1="572.05" y1="68.20" x2="612.40" y2="68.20" stroke="#ff1a1a" stroke-opacity="0.14" stroke-width="1.2"/>
<line x1="572.05" y1="71.20" x2="612.40" y2="71.20" stroke="#ff1a1a" stroke-opacity="0.14" stroke-width="1.2"/>
<line x1="531.70" y1="65.20" x2="612.40" y2="65.20" stroke="#ff1a1a" stroke-opacity="0.14" stroke-width="1.2"/>
<line x1="531.70" y1="69.20" x2="612.40" y2="69.20" stroke="#ff1a1a" stroke-opacity="0.14" stroke-width="1.2"/>
<line x1="531.70" y1="77.20" x2="572.05" y2="77.20" stroke="#ff1a1a" stroke-opacity="0.17" stroke-width="1.2"/>
<line x1="531.70" y1="79.20" x2="572.05" y2="79.20" stroke="#ff1a1a" stroke-opacity="0.21" stroke-width="1.2"/>
<line x1="531.70" y1="80.20" x2="572.05" y2="80.20" stroke="#ff1a1a" stroke-opacity="0.09" stroke-width="1.2"/>
<line x1="531.70" y1="81.20" x2="572.05" y2="81.20" stroke="#ff1a1a" stroke-opacity="0.12" stroke-width="1.2"/>
<line x1="531.70" y1="82.70" x2="572.05" y2="82.70" stroke="#ff1a1a" stroke-opacity="0.21" stroke-width="1.2"/>
<line x1="558.60" y1="86.30" x2="572.05" y2="86.30" stroke="#ff1a1a" stroke-opacity="0.16" stroke-width="1.2"/>
<line x1="531.70" y1="90.30" x2="572.05" y2="90.30" stroke="#ff1a1a" stroke-opacity="0.14" stroke-width="1.2"/>
<line x1="572.05" y1="79.20" x2="612.40" y2="79.20" stroke="#ff1a1a" stroke-opacity="0.14" stroke-width="1.2"/>
<line x1="572.05" y1="86.90" x2="612.40" y2="86.90" stroke="#ff1a1a" stroke-opacity="0.16" stroke-width="1.2"/>
<line x1="572.05" y1="90.30" x2="612.40" y2="90.30" stroke="#ff1a1a" stroke-opacity="0.14" stroke-width="1.2"/>
<line x1="572.05" y1="98.30" x2="612.40" y2="98.30" stroke="#ff1a1a" stroke-opacity="0.23" stroke-width="1.2"/>
<line x1="572.05" y1="99.80" x2="612.40" y2="99.80" stroke="#ff1a1a" stroke-opacity="0.15" stroke-width="1.2"/>
<line x1="572.05" y1="107.30" x2="612.40" y2="107.30" stroke="#ff1a1a" stroke-opacity="0.14" stroke-width="1.2"/>
<line x1="531.70" y1="105.30" x2="550.53" y2="105.30" stroke="#ff1a1a" stroke-opacity="0.11" stroke-width="1.2"/>
<line x1="612.40" y1="36.50" x2="652.75" y2="36.50" stroke="#ff1a1a" stroke-opacity="0.14" stroke-width="1.2"/>
<line x1="612.40" y1="46.10" x2="652.75" y2="46.10" stroke="#ff1a1a" stroke-opacity="0.14" stroke-width="1.2"/>
<line x1="652.75" y1="54.20" x2="693.10" y2="54.20" stroke="#ff1a1a" stroke-opacity="0.14" stroke-width="1.2"/>
<line x1="612.40" y1="62.80" x2="652.75" y2="62.80" stroke="#ff1a1a" stroke-opacity="0.18" stroke-width="1.2"/>
<line x1="612.40" y1="65.20" x2="693.10" y2="65.20" stroke="#ff1a1a" stroke-opacity="0.14" stroke-width="1.2"/>
<line x1="612.40" y1="69.20" x2="760.35" y2="69.20" stroke="#ff1a1a" stroke-opacity="0.14" stroke-width="1.2"/>
<line x1="612.40" y1="76.30" x2="652.75" y2="76.30" stroke="#ff1a1a" stroke-opacity="0.14" stroke-width="1.2"/>
<line x1="612.40" y1="81.30" x2="639.30" y2="81.30" stroke="#ff1a1a" stroke-opacity="0.14" stroke-width="1.2"/>
<line x1="693.10" y1="78.30" x2="760.35" y2="78.30" stroke="#ff1a1a" stroke-opacity="0.14" stroke-width="1.2"/>
<line x1="693.10" y1="82.30" x2="760.35" y2="82.30" stroke="#ff1a1a" stroke-opacity="0.14" stroke-width="1.2"/>
<line x1="693.10" y1="86.90" x2="760.35" y2="86.90" stroke="#ff1a1a" stroke-opacity="0.14" stroke-width="1.2"/>
<line x1="531.70" y1="50.70" x2="572.05" y2="50.70" stroke="#ff1a1a" stroke-opacity="0.23" stroke-width="1.2"/>
<line x1="531.70" y1="52.20" x2="572.05" y2="52.20" stroke="#ff1a1a" stroke-opacity="0.23" stroke-width="1.2"/>
<line x1="531.70" y1="53.70" x2="572.05" y2="53.70" stroke="#ff1a1a" stroke-opacity="0.34" stroke-width="1.2"/>
<line x1="531.70" y1="54.70" x2="572.05" y2="54.70" stroke="#ff1a1a" stroke-opacity="0.12" stroke-width="1.2"/>
<line x1="531.70" y1="55.70" x2="572.05" y2="55.70" stroke="#ff1a1a" stroke-opacity="0.10" stroke-width="1.2"/>
<line x1="531.70" y1="58.00" x2="572.05" y2="58.00" stroke="#ff1a1a" stroke-opacity="0.21" stroke-width="1.2"/>
<line x1="531.70" y1="59.00" x2="572.05" y2="59.00" stroke="#ff1a1a" stroke-opacity="0.13" stroke-width="1.2"/>
<line x1="531.70" y1="60.00" x2="572.05" y2="60.00" stroke="#ff1a1a" stroke-opacity="0.17" stroke-width="1.2"/>
<line x1="531.70" y1="61.50" x2="572.05" y2="61.50" stroke="#ff1a1a" stroke-opacity="0.23" stroke-width="1.2"/>
<line x1="531.70" y1="63.50" x2="572.05" y2="63.50" stroke="#ff1a1a" stroke-opacity="0.16" stroke-width="1.2"/>
<line x1="531.70" y1="65.00" x2="572.05" y2="65.00" stroke="#ff1a1a" stroke-opacity="0.20" stroke-width="1.2"/>
<line x1="531.70" y1="67.00" x2="572.05" y2="67.00" stroke="#ff1a1a" stroke-opacity="0.23" stroke-width="1.2"/>
<line x1="531.70" y1="68.00" x2="572.05" y2="68.00" stroke="#ff1a1a" stroke-opacity="0.23" stroke-width="1.2"/>
<line x1="531.70" y1="69.50" x2="572.05" y2="69.50" stroke="#ff1a1a" stroke-opacity="0.21" stroke-width="1.2"/>
<line x1="572.05" y1="58.00" x2="612.40" y2="58.00" stroke="#ff1a1a" stroke-opacity="0.17" stroke-width="1.2"/>
<line x1="572.05" y1="60.00" x2="612.40" y2="60.00" stroke="#ff1a1a" stroke-opacity="0.10" stroke-width="1.2"/>
<line x1="572.05" y1="61.00" x2="612.40" y2="61.00" stroke="#ff1a1a" stroke-opacity="0.19" stroke-width="1.2"/>
<line x1="572.05" y1="63.00" x2="612.40" y2="63.00" stroke="#ff1a1a" stroke-opacity="0.15" stroke-width="1.2"/>
<line x1="572.05" y1="64.50" x2="612.40" y2="64.50" stroke="#ff1a1a" stroke-opacity="0.16" stroke-width="1.2"/>
<line x1="572.05" y1="66.50" x2="612.40" y2="66.50" stroke="#ff1a1a" stroke-opacity="0.10" stroke-width="1.2"/>
<line x1="572.05" y1="68.00" x2="612.40" y2="68.00" stroke="#ff1a1a" stroke-opacity="0.10" stroke-width="1.2"/>
<line x1="572.05" y1="69.50" x2="612.40" y2="69.50" stroke="#ff1a1a" stroke-opacity="0.23" stroke-width="1.2"/>
<line x1="531.70" y1="76.00" x2="551.88" y2="76.00" stroke="#ff1a1a" stroke-opacity="0.30" stroke-width="1.2"/>
<line x1="531.70" y1="77.00" x2="551.88" y2="77.00" stroke="#ff1a1a" stroke-opacity="0.26" stroke-width="1.2"/>
<line x1="531.70" y1="78.00" x2="551.88" y2="78.00" stroke="#ff1a1a" stroke-opacity="0.16" stroke-width="1.2"/>
<line x1="531.70" y1="79.50" x2="551.88" y2="79.50" stroke="#ff1a1a" stroke-opacity="0.28" stroke-width="1.2"/>
<line x1="551.88" y1="79.00" x2="572.05" y2="79.00" stroke="#ff1a1a" stroke-opacity="0.25" stroke-width="1.2"/>
<line x1="551.88" y1="81.00" x2="572.05" y2="81.00" stroke="#ff1a1a" stroke-opacity="0.10" stroke-width="1.2"/>
<line x1="551.88" y1="83.00" x2="572.05" y2="83.00" stroke="#ff1a1a" stroke-opacity="0.28" stroke-width="1.2"/>
<line x1="572.05" y1="74.00" x2="612.40" y2="74.00" stroke="#ff1a1a" stroke-opacity="0.09" stroke-width="1.2"/>
<line x1="572.05" y1="75.00" x2="612.40" y2="75.00" stroke="#ff1a1a" stroke-opacity="0.13" stroke-width="1.2"/>
<line x1="572.05" y1="77.00" x2="612.40" y2="77.00" stroke="#ff1a1a" stroke-opacity="0.10" stroke-width="1.2"/>
<line x1="572.05" y1="83.00" x2="612.40" y2="83.00" stroke="#ff1a1a" stroke-opacity="0.07" stroke-width="1.2"/>
<line x1="572.05" y1="84.50" x2="612.40" y2="84.50" stroke="#ff1a1a" stroke-opacity="0.08" stroke-width="1.2"/>
<line x1="572.05" y1="86.00" x2="612.40" y2="86.00" stroke="#ff1a1a" stroke-opacity="0.08" stroke-width="1.2"/>
<line x1="572.05" y1="87.00" x2="612.40" y2="87.00" stroke="#ff1a1a" stroke-opacity="0.08" stroke-width="1.2"/>
<line x1="531.70" y1="92.00" x2="563.98" y2="92.00" stroke="#ff1a1a" stroke-opacity="0.14" stroke-width="1.2"/>
<line x1="531.70" y1="93.50" x2="563.98" y2="93.50" stroke="#ff1a1a" stroke-opacity="0.15" stroke-width="1.2"/>
<line x1="531.70" y1="95.50" x2="563.98" y2="95.50" stroke="#ff1a1a" stroke-opacity="0.13" stroke-width="1.2"/>
<path d="M531.75,40.38 L534.47,44.52 L537.19,48.22 L539.91,51.52 L542.64,54.43 L545.36,57.00 L548.08,59.24 L550.80,61.20 L553.52,62.89 L556.24,64.36 L558.97,65.62 L561.69,66.71 L564.41,67.67 L567.13,68.49 L569.85,69.19 L572.57,69.78 L575.29,70.26 L578.02,70.65 L580.74,70.93 L583.46,71.13 L586.18,71.25 L588.90,71.29 L591.62,71.26 L594.34,71.17 L597.07,71.03 L599.79,70.84 L602.51,70.60 L605.23,70.33 L607.95,70.03 L610.67,69.71 L613.40,69.37 L616.12,69.01 L618.84,68.65 L621.56,68.28 L624.28,67.89 L627.00,67.50 L629.72,67.10 L632.45,66.68 L635.17,66.26 L637.89,65.84 L640.61,65.40 L643.33,64.97 L646.05,64.52 L648.78,64.07 L651.50,63.62 L654.22,63.16 L656.94,62.70 L659.66,62.24 L662.38,61.78 L665.10,61.30 L667.83,60.81 L670.55,60.28 L673.27,59.71 L675.99,59.09 L678.71,58.40 L681.43,57.63 L684.16,56.78 L686.88,55.86 L689.60,54.87 L692.32,53.82 L695.04,52.72 L697.76,51.57 L700.48,50.39 L703.21,49.17 L705.93,47.93 L708.65,46.67 L711.37,45.41 L714.09,44.14 L716.81,42.87 L719.53,41.62 L722.26,40.39 L724.98,39.19 L727.70,38.02 L730.42,36.89 L733.14,35.80 L735.86,34.78 L738.59,33.82 L741.31,32.92 L744.03,32.11 L746.75,31.38 L747.05,119.13 L744.32,117.96 L741.60,116.77 L738.87,115.53 L736.15,114.26 L733.42,112.97 L730.70,111.65 L727.97,110.31 L725.25,108.96 L722.52,107.59 L719.80,106.21 L717.07,104.82 L714.35,103.43 L711.62,102.04 L708.90,100.66 L706.17,99.29 L703.44,97.93 L700.72,96.58 L697.99,95.25 L695.27,93.95 L692.54,92.67 L689.82,91.42 L687.09,90.21 L684.37,89.04 L681.64,87.90 L678.92,86.81 L676.19,85.77 L673.47,84.78 L670.74,83.85 L668.02,82.98 L665.29,82.17 L662.57,81.43 L659.84,80.75 L657.11,80.15 L654.39,79.63 L651.66,79.19 L648.94,78.84 L646.21,78.57 L643.49,78.40 L640.76,78.31 L638.04,78.30 L635.31,78.36 L632.59,78.48 L629.86,78.66 L627.14,78.89 L624.41,79.16 L621.69,79.46 L618.96,79.78 L616.23,80.12 L613.51,80.48 L610.78,80.83 L608.06,81.18 L605.33,81.51 L602.61,81.83 L599.88,82.11 L597.16,82.36 L594.43,82.56 L591.71,82.71 L588.98,82.81 L586.26,82.83 L583.53,82.78 L580.81,82.65 L578.08,82.43 L575.36,82.11 L572.63,81.69 L569.90,81.15 L567.18,80.51 L564.45,79.76 L561.73,78.91 L559.00,77.96 L556.28,76.91 L553.55,75.78 L550.83,74.56 L548.10,73.26 L545.38,71.88 L542.65,70.42 L539.93,68.90 L537.20,67.30 L534.48,65.65 L531.75,63.93 Z" fill="rgb(139,211,241)" fill-opacity="0.5"/>
<path d="M531.75,55.48 L534.48,57.98 L537.20,60.29 L539.93,62.40 L542.65,64.32 L545.38,66.07 L548.10,67.65 L550.83,69.08 L553.55,70.35 L556.28,71.49 L559.00,72.49 L561.73,73.37 L564.45,74.14 L567.18,74.80 L569.90,75.36 L572.63,75.84 L575.36,76.24 L578.08,76.56 L580.81,76.81 L583.53,77.00 L586.26,77.12 L588.98,77.18 L591.71,77.19 L594.43,77.15 L597.16,77.06 L599.88,76.93 L602.61,76.76 L605.33,76.56 L608.06,76.33 L610.78,76.07 L613.51,75.79 L616.23,75.50 L618.96,75.19 L621.69,74.87 L624.41,74.54 L627.14,74.21 L629.86,73.89 L632.59,73.57 L635.31,73.27 L638.04,72.98 L640.76,72.70 L643.49,72.46 L646.21,72.23 L648.94,72.04 L651.66,71.88 L654.39,71.75 L657.11,71.65 L659.84,71.57 L662.57,71.53 L665.29,71.51 L668.02,71.51 L670.74,71.55 L673.47,71.61 L676.19,71.69 L678.92,71.80 L681.64,71.93 L684.37,72.08 L687.09,72.26 L689.82,72.46 L692.54,72.67 L695.27,72.91 L697.99,73.17 L700.72,73.45 L703.44,73.75 L706.17,74.07 L708.90,74.40 L711.62,74.75 L714.35,75.12 L717.07,75.50 L719.80,75.90 L722.52,76.31 L725.25,76.74 L727.97,77.18 L730.70,77.63 L733.42,78.10 L736.15,78.57 L738.87,79.06 L741.60,79.56 L744.32,80.07 L747.05,80.58" fill="none" stroke="#3a5fcd" stroke-width="2" stroke-linejoin="round"/>
</g>
<line x1="523.10" y1="73.94" x2="755.60" y2="73.94" stroke="#000" stroke-width="2"/>
<line x1="612.40" y1="12.95" x2="612.40" y2="115.35" stroke="#4a4a4a" stroke-width="1.1"/>
<rect x="523.10" y="12.95" width="232.50" height="102.40" fill="none" stroke="#4a4a4a" stroke-width="1.25" stroke-linejoin="round"/>
<text x="639.35" y="9.25" font-size="11" font-weight="bold" text-anchor="middle" fill="#000">I</text>
<text x="650.06" y="30.35" font-size="9.3" text-anchor="middle" fill="#000">LSC - CTD</text>
<g clip-path="url(#clipJ)">
<line x1="531.70" y1="190.20" x2="545.15" y2="190.20" stroke="#ff1a1a" stroke-opacity="0.14" stroke-width="1.2"/>
<line x1="531.70" y1="192.20" x2="558.60" y2="192.20" stroke="#ff1a1a" stroke-opacity="0.14" stroke-width="1.2"/>
<line x1="545.15" y1="194.80" x2="572.05" y2="194.80" stroke="#ff1a1a" stroke-opacity="0.16" stroke-width="1.2"/>
<line x1="545.15" y1="202.20" x2="558.60" y2="202.20" stroke="#ff1a1a" stroke-opacity="0.20" stroke-width="1.2"/>
<line x1="558.60" y1="210.90" x2="585.50" y2="210.90" stroke="#ff1a1a" stroke-opacity="0.14" stroke-width="1.2"/>
<line x1="598.95" y1="188.80" x2="666.20" y2="188.80" stroke="#ff1a1a" stroke-opacity="0.14" stroke-width="1.2"/>
<line x1="666.20" y1="202.20" x2="760.35" y2="202.20" stroke="#ff1a1a" stroke-opacity="0.09" stroke-width="1.2"/>
<path d="M531.95,137.78 L534.68,143.11 L537.40,148.15 L540.13,152.87 L542.86,157.20 L545.58,161.10 L548.31,164.51 L551.04,167.42 L553.76,169.93 L556.49,172.11 L559.22,174.04 L561.94,175.81 L564.67,177.49 L567.40,179.11 L570.12,180.66 L572.85,182.15 L575.58,183.58 L578.30,184.95 L581.03,186.25 L583.76,187.49 L586.48,188.66 L589.21,189.77 L591.93,190.82 L594.66,191.80 L597.39,192.72 L600.11,193.57 L602.84,194.36 L605.57,195.08 L608.29,195.75 L611.02,196.34 L613.75,196.88 L616.47,197.35 L619.20,197.77 L621.93,198.12 L624.65,198.41 L627.38,198.64 L630.11,198.81 L632.83,198.92 L635.56,198.98 L638.29,198.97 L641.01,198.91 L643.74,198.79 L646.47,198.62 L649.19,198.39 L651.92,198.11 L654.65,197.77 L657.37,197.38 L660.10,196.93 L662.83,196.43 L665.55,195.86 L668.28,195.23 L671.01,194.53 L673.73,193.76 L676.46,192.92 L679.19,191.99 L681.91,190.98 L684.64,189.88 L687.37,188.70 L690.09,187.41 L692.82,186.03 L695.54,184.54 L698.27,182.95 L701.00,181.25 L703.72,179.46 L706.45,177.59 L709.18,175.66 L711.90,173.67 L714.63,171.64 L717.36,169.59 L720.08,167.53 L722.81,165.47 L725.54,163.43 L728.26,161.41 L730.99,159.44 L733.72,157.52 L736.44,155.67 L739.17,153.91 L741.90,152.24 L744.62,150.68 L747.35,149.25 L747.35,239.91 L744.62,239.38 L741.90,238.90 L739.17,238.47 L736.44,238.08 L733.72,237.74 L730.99,237.44 L728.26,237.18 L725.54,236.96 L722.81,236.76 L720.08,236.60 L717.36,236.46 L714.63,236.35 L711.90,236.25 L709.18,236.17 L706.45,236.11 L703.72,236.06 L701.00,236.02 L698.27,235.99 L695.54,235.96 L692.82,235.93 L690.09,235.89 L687.37,235.85 L684.64,235.81 L681.91,235.75 L679.19,235.68 L676.46,235.59 L673.73,235.48 L671.01,235.35 L668.28,235.19 L665.55,235.00 L662.83,234.78 L660.10,234.53 L657.37,234.24 L654.65,233.91 L651.92,233.54 L649.19,233.12 L646.47,232.65 L643.74,232.13 L641.01,231.56 L638.29,230.92 L635.56,230.23 L632.83,229.48 L630.11,228.67 L627.38,227.81 L624.65,226.89 L621.93,225.93 L619.20,224.93 L616.47,223.88 L613.75,222.80 L611.02,221.68 L608.29,220.53 L605.57,219.35 L602.84,218.15 L600.11,216.92 L597.39,215.65 L594.66,214.34 L591.93,212.98 L589.21,211.54 L586.48,210.02 L583.76,208.41 L581.03,206.69 L578.30,204.88 L575.58,202.99 L572.85,201.05 L570.12,199.07 L567.40,197.08 L564.67,195.11 L561.94,193.16 L559.22,191.28 L556.49,189.50 L553.76,187.87 L551.04,186.43 L548.31,185.23 L545.58,184.31 L542.86,183.71 L540.13,183.49 L537.40,183.69 L534.68,184.35 L531.95,185.52 Z" fill="rgb(139,211,241)" fill-opacity="0.5"/>
<path d="M531.95,161.84 L534.68,164.15 L537.40,166.41 L540.13,168.64 L542.86,170.83 L545.58,172.98 L548.31,175.08 L551.04,177.14 L553.76,179.16 L556.49,181.13 L559.22,183.05 L561.94,184.93 L564.67,186.76 L567.40,188.53 L570.12,190.26 L572.85,191.93 L575.58,193.55 L578.30,195.12 L581.03,196.63 L583.76,198.08 L586.48,199.48 L589.21,200.82 L591.93,202.10 L594.66,203.32 L597.39,204.48 L600.11,205.57 L602.84,206.61 L605.57,207.57 L608.29,208.48 L611.02,209.31 L613.75,210.08 L616.47,210.78 L619.20,211.41 L621.93,211.98 L624.65,212.49 L627.38,212.93 L630.11,213.31 L632.83,213.63 L635.56,213.89 L638.29,214.10 L641.01,214.25 L643.74,214.34 L646.47,214.38 L649.19,214.36 L651.92,214.30 L654.65,214.18 L657.37,214.02 L660.10,213.80 L662.83,213.54 L665.55,213.24 L668.28,212.89 L671.01,212.49 L673.73,212.06 L676.46,211.58 L679.19,211.07 L681.91,210.52 L684.64,209.93 L687.37,209.32 L690.09,208.68 L692.82,208.01 L695.54,207.33 L698.27,206.63 L701.00,205.91 L703.72,205.19 L706.45,204.46 L709.18,203.72 L711.90,202.99 L714.63,202.26 L717.36,201.54 L720.08,200.83 L722.81,200.13 L725.54,199.45 L728.26,198.79 L730.99,198.15 L733.72,197.54 L736.44,196.97 L739.17,196.42 L741.90,195.92 L744.62,195.45 L747.35,195.03" fill="none" stroke="#3a5fcd" stroke-width="2" stroke-linejoin="round"/>
</g>
<line x1="523.10" y1="198.14" x2="755.60" y2="198.14" stroke="#000" stroke-width="2"/>
<line x1="612.40" y1="137.15" x2="612.40" y2="239.55" stroke="#4a4a4a" stroke-width="1.1"/>
<rect x="523.10" y="137.15" width="232.50" height="102.40" fill="none" stroke="#4a4a4a" stroke-width="1.25" stroke-linejoin="round"/>
<text x="639.35" y="133.45" font-size="11" font-weight="bold" text-anchor="middle" fill="#000">J</text>
<text x="650.06" y="154.55" font-size="9.3" text-anchor="middle" fill="#000">S - CTD</text>
<g clip-path="url(#clipK)">
<line x1="531.70" y1="275.50" x2="558.60" y2="275.50" stroke="#ff1a1a" stroke-opacity="0.16" stroke-width="1.2"/>
<line x1="545.15" y1="288.70" x2="572.05" y2="288.70" stroke="#ff1a1a" stroke-opacity="0.14" stroke-width="1.2"/>
<line x1="572.05" y1="289.10" x2="592.23" y2="289.10" stroke="#ff1a1a" stroke-opacity="0.14" stroke-width="1.2"/>
<line x1="531.70" y1="302.70" x2="558.60" y2="302.70" stroke="#ff1a1a" stroke-opacity="0.14" stroke-width="1.2"/>
<line x1="531.70" y1="305.20" x2="558.60" y2="305.20" stroke="#ff1a1a" stroke-opacity="0.16" stroke-width="1.2"/>
<line x1="545.15" y1="307.20" x2="585.50" y2="307.20" stroke="#ff1a1a" stroke-opacity="0.14" stroke-width="1.2"/>
<line x1="531.70" y1="314.20" x2="572.05" y2="314.20" stroke="#ff1a1a" stroke-opacity="0.18" stroke-width="1.2"/>
<line x1="531.70" y1="311.60" x2="545.15" y2="311.60" stroke="#ff1a1a" stroke-opacity="0.14" stroke-width="1.2"/>
<line x1="585.50" y1="310.80" x2="639.30" y2="310.80" stroke="#ff1a1a" stroke-opacity="0.14" stroke-width="1.2"/>
<line x1="531.70" y1="327.20" x2="612.40" y2="327.20" stroke="#ff1a1a" stroke-opacity="0.14" stroke-width="1.2"/>
<line x1="531.70" y1="326.80" x2="572.05" y2="326.80" stroke="#ff1a1a" stroke-opacity="0.14" stroke-width="1.2"/>
<line x1="572.05" y1="331.70" x2="612.40" y2="331.70" stroke="#ff1a1a" stroke-opacity="0.14" stroke-width="1.2"/>
<line x1="572.05" y1="334.90" x2="612.40" y2="334.90" stroke="#ff1a1a" stroke-opacity="0.18" stroke-width="1.2"/>
<line x1="531.70" y1="334.90" x2="612.40" y2="334.90" stroke="#ff1a1a" stroke-opacity="0.14" stroke-width="1.2"/>
<line x1="531.70" y1="341.30" x2="585.50" y2="341.30" stroke="#ff1a1a" stroke-opacity="0.11" stroke-width="1.2"/>
<line x1="612.40" y1="311.60" x2="652.75" y2="311.60" stroke="#ff1a1a" stroke-opacity="0.14" stroke-width="1.2"/>
<line x1="612.40" y1="328.90" x2="652.75" y2="328.90" stroke="#ff1a1a" stroke-opacity="0.14" stroke-width="1.2"/>
<line x1="612.40" y1="332.30" x2="652.75" y2="332.30" stroke="#ff1a1a" stroke-opacity="0.14" stroke-width="1.2"/>
<line x1="612.40" y1="334.90" x2="652.75" y2="334.90" stroke="#ff1a1a" stroke-opacity="0.16" stroke-width="1.2"/>
<line x1="652.75" y1="312.80" x2="693.10" y2="312.80" stroke="#ff1a1a" stroke-opacity="0.11" stroke-width="1.2"/>
<line x1="652.75" y1="324.30" x2="693.10" y2="324.30" stroke="#ff1a1a" stroke-opacity="0.11" stroke-width="1.2"/>
<path d="M531.95,272.57 L534.68,278.50 L537.40,283.91 L540.13,288.81 L542.86,293.24 L545.58,297.20 L548.31,300.72 L551.04,303.82 L553.76,306.54 L556.49,308.91 L559.22,310.97 L561.94,312.74 L564.67,314.25 L567.40,315.52 L570.12,316.56 L572.85,317.40 L575.58,318.04 L578.30,318.50 L581.03,318.80 L583.76,318.96 L586.48,318.99 L589.21,318.90 L591.93,318.72 L594.66,318.46 L597.39,318.14 L600.11,317.77 L602.84,317.36 L605.57,316.94 L608.29,316.53 L611.02,316.13 L613.75,315.76 L616.47,315.44 L619.20,315.14 L621.93,314.88 L624.65,314.65 L627.38,314.44 L630.11,314.25 L632.83,314.08 L635.56,313.92 L638.29,313.77 L641.01,313.62 L643.74,313.48 L646.47,313.34 L649.19,313.19 L651.92,313.02 L654.65,312.85 L657.37,312.66 L660.10,312.45 L662.83,312.21 L665.55,311.95 L668.28,311.65 L671.01,311.32 L673.73,310.95 L676.46,310.53 L679.19,310.07 L681.91,309.56 L684.64,309.00 L687.37,308.37 L690.09,307.69 L692.82,306.95 L695.54,306.15 L698.27,305.31 L701.00,304.42 L703.72,303.50 L706.45,302.54 L709.18,301.56 L711.90,300.54 L714.63,299.51 L717.36,298.47 L720.08,297.41 L722.81,296.35 L725.54,295.29 L728.26,294.23 L730.99,293.18 L733.72,292.15 L736.44,291.13 L739.17,290.14 L741.90,289.17 L744.62,288.24 L747.35,287.35 L747.35,379.64 L744.62,377.73 L741.90,375.74 L739.17,373.69 L736.44,371.57 L733.72,369.40 L730.99,367.20 L728.26,364.98 L725.54,362.74 L722.81,360.50 L720.08,358.27 L717.36,356.06 L714.63,353.89 L711.90,351.76 L709.18,349.69 L706.45,347.68 L703.72,345.76 L701.00,343.93 L698.27,342.20 L695.54,340.58 L692.82,339.08 L690.09,337.69 L687.37,336.41 L684.64,335.24 L681.91,334.16 L679.19,333.19 L676.46,332.30 L673.73,331.51 L671.01,330.81 L668.28,330.19 L665.55,329.66 L662.83,329.20 L660.10,328.81 L657.37,328.50 L654.65,328.25 L651.92,328.06 L649.19,327.94 L646.47,327.88 L643.74,327.86 L641.01,327.90 L638.29,327.99 L635.56,328.11 L632.83,328.27 L630.11,328.45 L627.38,328.66 L624.65,328.88 L621.93,329.11 L619.20,329.35 L616.47,329.58 L613.75,329.81 L611.02,330.02 L608.29,330.21 L605.57,330.38 L602.84,330.51 L600.11,330.61 L597.39,330.66 L594.66,330.66 L591.93,330.60 L589.21,330.49 L586.48,330.30 L583.76,330.05 L581.03,329.71 L578.30,329.28 L575.58,328.77 L572.85,328.16 L570.12,327.44 L567.40,326.61 L564.67,325.67 L561.94,324.56 L559.22,323.26 L556.49,321.72 L553.76,319.90 L551.04,317.77 L548.31,315.42 L545.58,312.95 L542.86,310.45 L540.13,308.04 L537.40,305.79 L534.68,303.82 L531.95,302.23 Z" fill="rgb(139,211,241)" fill-opacity="0.5"/>
<path d="M531.95,287.07 L534.67,291.81 L537.40,296.16 L540.12,300.12 L542.84,303.69 L545.56,306.89 L548.29,309.71 L551.01,312.16 L553.73,314.25 L556.46,315.99 L559.18,317.41 L561.90,318.58 L564.62,319.56 L567.35,320.38 L570.07,321.11 L572.79,321.74 L575.51,322.28 L578.24,322.75 L580.96,323.13 L583.68,323.45 L586.41,323.69 L589.13,323.87 L591.85,323.99 L594.57,324.06 L597.30,324.07 L600.02,324.04 L602.74,323.97 L605.47,323.86 L608.19,323.71 L610.91,323.54 L613.63,323.35 L616.36,323.13 L619.08,322.90 L621.80,322.66 L624.52,322.42 L627.25,322.17 L629.97,321.93 L632.69,321.69 L635.42,321.47 L638.14,321.26 L640.86,321.07 L643.58,320.91 L646.31,320.78 L649.03,320.68 L651.75,320.60 L654.48,320.55 L657.20,320.53 L659.92,320.53 L662.64,320.56 L665.37,320.62 L668.09,320.70 L670.81,320.82 L673.53,320.95 L676.26,321.12 L678.98,321.31 L681.70,321.52 L684.43,321.76 L687.15,322.03 L689.87,322.32 L692.59,322.64 L695.32,322.98 L698.04,323.35 L700.76,323.74 L703.49,324.15 L706.21,324.59 L708.93,325.06 L711.65,325.54 L714.38,326.06 L717.10,326.59 L719.82,327.15 L722.54,327.73 L725.27,328.34 L727.99,328.96 L730.71,329.61 L733.44,330.29 L736.16,330.98 L738.88,331.70 L741.60,332.44 L744.33,333.20 L747.05,333.99" fill="none" stroke="#3a5fcd" stroke-width="2" stroke-linejoin="round"/>
</g>
<line x1="523.10" y1="322.34" x2="755.60" y2="322.34" stroke="#000" stroke-width="2"/>
<line x1="612.40" y1="261.35" x2="612.40" y2="363.75" stroke="#4a4a4a" stroke-width="1.1"/>
<rect x="523.10" y="261.35" width="232.50" height="102.40" fill="none" stroke="#4a4a4a" stroke-width="1.25" stroke-linejoin="round"/>
<text x="639.35" y="257.65" font-size="11" font-weight="bold" text-anchor="middle" fill="#000">K</text>
<text x="650.06" y="278.75" font-size="9.3" text-anchor="middle" fill="#000">LSC - CTM</text>
<g clip-path="url(#clipL)">
<line x1="531.70" y1="412.10" x2="545.15" y2="412.10" stroke="#ff1a1a" stroke-opacity="0.11" stroke-width="1.2"/>
<line x1="531.70" y1="421.10" x2="545.15" y2="421.10" stroke="#ff1a1a" stroke-opacity="0.16" stroke-width="1.2"/>
<line x1="531.70" y1="426.70" x2="545.15" y2="426.70" stroke="#ff1a1a" stroke-opacity="0.16" stroke-width="1.2"/>
<line x1="531.70" y1="430.20" x2="545.15" y2="430.20" stroke="#ff1a1a" stroke-opacity="0.14" stroke-width="1.2"/>
<line x1="531.70" y1="434.20" x2="558.60" y2="434.20" stroke="#ff1a1a" stroke-opacity="0.14" stroke-width="1.2"/>
<line x1="531.70" y1="436.20" x2="585.50" y2="436.20" stroke="#ff1a1a" stroke-opacity="0.11" stroke-width="1.2"/>
<line x1="531.70" y1="440.20" x2="558.60" y2="440.20" stroke="#ff1a1a" stroke-opacity="0.14" stroke-width="1.2"/>
<line x1="531.70" y1="442.20" x2="572.05" y2="442.20" stroke="#ff1a1a" stroke-opacity="0.14" stroke-width="1.2"/>
<line x1="531.70" y1="439.80" x2="693.10" y2="439.80" stroke="#ff1a1a" stroke-opacity="0.11" stroke-width="1.2"/>
<line x1="531.70" y1="448.20" x2="572.05" y2="448.20" stroke="#ff1a1a" stroke-opacity="0.14" stroke-width="1.2"/>
<line x1="531.70" y1="451.20" x2="558.60" y2="451.20" stroke="#ff1a1a" stroke-opacity="0.14" stroke-width="1.2"/>
<line x1="558.60" y1="457.30" x2="585.50" y2="457.30" stroke="#ff1a1a" stroke-opacity="0.14" stroke-width="1.2"/>
<line x1="558.60" y1="398.10" x2="585.50" y2="398.10" stroke="#ff1a1a" stroke-opacity="0.14" stroke-width="1.2"/>
<line x1="545.15" y1="408.10" x2="558.60" y2="408.10" stroke="#ff1a1a" stroke-opacity="0.11" stroke-width="1.2"/>
<line x1="585.50" y1="460.30" x2="612.40" y2="460.30" stroke="#ff1a1a" stroke-opacity="0.11" stroke-width="1.2"/>
<line x1="612.40" y1="420.10" x2="639.30" y2="420.10" stroke="#ff1a1a" stroke-opacity="0.14" stroke-width="1.2"/>
<line x1="639.30" y1="426.10" x2="666.20" y2="426.10" stroke="#ff1a1a" stroke-opacity="0.14" stroke-width="1.2"/>
<line x1="666.20" y1="434.20" x2="693.10" y2="434.20" stroke="#ff1a1a" stroke-opacity="0.14" stroke-width="1.2"/>
<line x1="639.30" y1="451.20" x2="693.10" y2="451.20" stroke="#ff1a1a" stroke-opacity="0.09" stroke-width="1.2"/>
<path d="M531.95,362.04 L534.68,371.19 L537.40,379.48 L540.13,386.92 L542.86,393.55 L545.58,399.37 L548.31,404.44 L551.04,408.82 L553.76,412.58 L556.49,415.82 L559.22,418.62 L561.94,421.08 L564.67,423.29 L567.40,425.34 L570.12,427.23 L572.85,428.97 L575.58,430.59 L578.30,432.08 L581.03,433.45 L583.76,434.72 L586.48,435.90 L589.21,436.98 L591.93,437.99 L594.66,438.93 L597.39,439.81 L600.11,440.64 L602.84,441.43 L605.57,442.17 L608.29,442.88 L611.02,443.53 L613.75,444.14 L616.47,444.71 L619.20,445.22 L621.93,445.68 L624.65,446.09 L627.38,446.45 L630.11,446.75 L632.83,446.99 L635.56,447.17 L638.29,447.29 L641.01,447.35 L643.74,447.34 L646.47,447.27 L649.19,447.14 L651.92,446.93 L654.65,446.65 L657.37,446.31 L660.10,445.88 L662.83,445.39 L665.55,444.81 L668.28,444.16 L671.01,443.43 L673.73,442.63 L676.46,441.75 L679.19,440.80 L681.91,439.77 L684.64,438.69 L687.37,437.53 L690.09,436.32 L692.82,435.04 L695.54,433.70 L698.27,432.31 L701.00,430.87 L703.72,429.37 L706.45,427.82 L709.18,426.23 L711.90,424.59 L714.63,422.91 L717.36,421.19 L720.08,419.43 L722.81,417.63 L725.54,415.80 L728.26,413.94 L730.99,412.05 L733.72,410.14 L736.44,408.20 L739.17,406.23 L741.90,404.25 L744.62,402.25 L747.35,400.23 L747.35,487.02 L744.62,486.58 L741.90,486.18 L739.17,485.81 L736.44,485.47 L733.72,485.17 L730.99,484.89 L728.26,484.64 L725.54,484.41 L722.81,484.21 L720.08,484.03 L717.36,483.86 L714.63,483.71 L711.90,483.57 L709.18,483.45 L706.45,483.33 L703.72,483.22 L701.00,483.12 L698.27,483.02 L695.54,482.92 L692.82,482.81 L690.09,482.71 L687.37,482.60 L684.64,482.48 L681.91,482.35 L679.19,482.21 L676.46,482.05 L673.73,481.88 L671.01,481.69 L668.28,481.48 L665.55,481.24 L662.83,480.98 L660.10,480.70 L657.37,480.38 L654.65,480.04 L651.92,479.66 L649.19,479.24 L646.47,478.79 L643.74,478.30 L641.01,477.76 L638.29,477.18 L635.56,476.56 L632.83,475.88 L630.11,475.16 L627.38,474.38 L624.65,473.55 L621.93,472.66 L619.20,471.71 L616.47,470.71 L613.75,469.63 L611.02,468.50 L608.29,467.29 L605.57,466.02 L602.84,464.67 L600.11,463.25 L597.39,461.75 L594.66,460.18 L591.93,458.52 L589.21,456.78 L586.48,454.98 L583.76,453.10 L581.03,451.16 L578.30,449.17 L575.58,447.14 L572.85,445.06 L570.12,442.95 L567.40,440.82 L564.67,438.67 L561.94,436.51 L559.22,434.38 L556.49,432.28 L553.76,430.25 L551.04,428.29 L548.31,426.44 L545.58,424.70 L542.86,423.10 L540.13,421.66 L537.40,420.40 L534.68,419.34 L531.95,418.50 Z" fill="rgb(139,211,241)" fill-opacity="0.5"/>
<path d="M531.95,394.53 L534.68,398.14 L537.40,401.64 L540.13,405.02 L542.86,408.27 L545.58,411.42 L548.31,414.44 L551.04,417.36 L553.76,420.17 L556.49,422.86 L559.22,425.46 L561.94,427.94 L564.67,430.32 L567.40,432.60 L570.12,434.79 L572.85,436.87 L575.58,438.86 L578.30,440.75 L581.03,442.55 L583.76,444.26 L586.48,445.89 L589.21,447.42 L591.93,448.87 L594.66,450.24 L597.39,451.52 L600.11,452.73 L602.84,453.85 L605.57,454.91 L608.29,455.88 L611.02,456.79 L613.75,457.62 L616.47,458.38 L619.20,459.08 L621.93,459.71 L624.65,460.28 L627.38,460.79 L630.11,461.24 L632.83,461.63 L635.56,461.96 L638.29,462.24 L641.01,462.46 L643.74,462.64 L646.47,462.76 L649.19,462.84 L651.92,462.87 L654.65,462.86 L657.37,462.81 L660.10,462.72 L662.83,462.59 L665.55,462.42 L668.28,462.22 L671.01,461.98 L673.73,461.71 L676.46,461.42 L679.19,461.09 L681.91,460.75 L684.64,460.37 L687.37,459.98 L690.09,459.56 L692.82,459.13 L695.54,458.68 L698.27,458.22 L701.00,457.74 L703.72,457.25 L706.45,456.75 L709.18,456.25 L711.90,455.73 L714.63,455.22 L717.36,454.70 L720.08,454.18 L722.81,453.66 L725.54,453.15 L728.26,452.64 L730.99,452.14 L733.72,451.65 L736.44,451.16 L739.17,450.69 L741.90,450.23 L744.62,449.79 L747.35,449.37" fill="none" stroke="#3a5fcd" stroke-width="2" stroke-linejoin="round"/>
</g>
<line x1="523.10" y1="446.54" x2="755.60" y2="446.54" stroke="#000" stroke-width="2"/>
<line x1="612.40" y1="385.55" x2="612.40" y2="487.95" stroke="#4a4a4a" stroke-width="1.1"/>
<rect x="523.10" y="385.55" width="232.50" height="102.40" fill="none" stroke="#4a4a4a" stroke-width="1.25" stroke-linejoin="round"/>
<text x="639.35" y="381.85" font-size="11" font-weight="bold" text-anchor="middle" fill="#000">L</text>
<text x="650.06" y="402.95" font-size="9.3" text-anchor="middle" fill="#000">S - CTM</text>
<line x1="35.60" y1="16.74" x2="41.10" y2="16.74" stroke="#4a4a4a" stroke-width="1.1"/>
<line x1="35.60" y1="35.71" x2="41.10" y2="35.71" stroke="#4a4a4a" stroke-width="1.1"/>
<line x1="35.60" y1="54.67" x2="41.10" y2="54.67" stroke="#4a4a4a" stroke-width="1.1"/>
<line x1="35.60" y1="73.64" x2="41.10" y2="73.64" stroke="#4a4a4a" stroke-width="1.1"/>
<line x1="35.60" y1="92.60" x2="41.10" y2="92.60" stroke="#4a4a4a" stroke-width="1.1"/>
<line x1="35.60" y1="111.57" x2="41.10" y2="111.57" stroke="#4a4a4a" stroke-width="1.1"/>
<text transform="translate(27.6,35.71) rotate(-90)" font-size="9" text-anchor="middle" fill="#444">1.0</text>
<text transform="translate(27.6,73.64) rotate(-90)" font-size="9" text-anchor="middle" fill="#444">0.0</text>
<text transform="translate(27.6,111.57) rotate(-90)" font-size="9" text-anchor="middle" fill="#444">-1.0</text>
<line x1="35.60" y1="140.94" x2="41.10" y2="140.94" stroke="#4a4a4a" stroke-width="1.1"/>
<line x1="35.60" y1="159.91" x2="41.10" y2="159.91" stroke="#4a4a4a" stroke-width="1.1"/>
<line x1="35.60" y1="178.87" x2="41.10" y2="178.87" stroke="#4a4a4a" stroke-width="1.1"/>
<line x1="35.60" y1="197.84" x2="41.10" y2="197.84" stroke="#4a4a4a" stroke-width="1.1"/>
<line x1="35.60" y1="216.80" x2="41.10" y2="216.80" stroke="#4a4a4a" stroke-width="1.1"/>
<line x1="35.60" y1="235.77" x2="41.10" y2="235.77" stroke="#4a4a4a" stroke-width="1.1"/>
<text transform="translate(27.6,159.91) rotate(-90)" font-size="9" text-anchor="middle" fill="#444">1.0</text>
<text transform="translate(27.6,197.84) rotate(-90)" font-size="9" text-anchor="middle" fill="#444">0.0</text>
<text transform="translate(27.6,235.77) rotate(-90)" font-size="9" text-anchor="middle" fill="#444">-1.0</text>
<line x1="35.60" y1="265.14" x2="41.10" y2="265.14" stroke="#4a4a4a" stroke-width="1.1"/>
<line x1="35.60" y1="284.11" x2="41.10" y2="284.11" stroke="#4a4a4a" stroke-width="1.1"/>
<line x1="35.60" y1="303.07" x2="41.10" y2="303.07" stroke="#4a4a4a" stroke-width="1.1"/>
<line x1="35.60" y1="322.04" x2="41.10" y2="322.04" stroke="#4a4a4a" stroke-width="1.1"/>
<line x1="35.60" y1="341.00" x2="41.10" y2="341.00" stroke="#4a4a4a" stroke-width="1.1"/>
<line x1="35.60" y1="359.97" x2="41.10" y2="359.97" stroke="#4a4a4a" stroke-width="1.1"/>
<text transform="translate(27.6,284.11) rotate(-90)" font-size="9" text-anchor="middle" fill="#444">1.0</text>
<text transform="translate(27.6,322.04) rotate(-90)" font-size="9" text-anchor="middle" fill="#444">0.0</text>
<text transform="translate(27.6,359.97) rotate(-90)" font-size="9" text-anchor="middle" fill="#444">-1.0</text>
<line x1="35.60" y1="389.34" x2="41.10" y2="389.34" stroke="#4a4a4a" stroke-width="1.1"/>
<line x1="35.60" y1="408.31" x2="41.10" y2="408.31" stroke="#4a4a4a" stroke-width="1.1"/>
<line x1="35.60" y1="427.27" x2="41.10" y2="427.27" stroke="#4a4a4a" stroke-width="1.1"/>
<line x1="35.60" y1="446.24" x2="41.10" y2="446.24" stroke="#4a4a4a" stroke-width="1.1"/>
<line x1="35.60" y1="465.20" x2="41.10" y2="465.20" stroke="#4a4a4a" stroke-width="1.1"/>
<line x1="35.60" y1="484.17" x2="41.10" y2="484.17" stroke="#4a4a4a" stroke-width="1.1"/>
<text transform="translate(27.6,408.31) rotate(-90)" font-size="9" text-anchor="middle" fill="#444">1.0</text>
<text transform="translate(27.6,446.24) rotate(-90)" font-size="9" text-anchor="middle" fill="#444">0.0</text>
<text transform="translate(27.6,484.17) rotate(-90)" font-size="9" text-anchor="middle" fill="#444">-1.0</text>
<line x1="49.70" y1="487.95" x2="49.70" y2="493.95" stroke="#4a4a4a" stroke-width="1.1"/>
<text x="49.70" y="509" font-size="10" text-anchor="middle" fill="#333">0</text>
<line x1="103.50" y1="487.95" x2="103.50" y2="493.95" stroke="#4a4a4a" stroke-width="1.1"/>
<text x="103.50" y="509" font-size="10" text-anchor="middle" fill="#333">20</text>
<line x1="157.30" y1="487.95" x2="157.30" y2="493.95" stroke="#4a4a4a" stroke-width="1.1"/>
<text x="157.30" y="509" font-size="10" text-anchor="middle" fill="#333">40</text>
<line x1="211.10" y1="487.95" x2="211.10" y2="493.95" stroke="#4a4a4a" stroke-width="1.1"/>
<text x="211.10" y="509" font-size="10" text-anchor="middle" fill="#333">60</text>
<line x1="264.90" y1="487.95" x2="264.90" y2="493.95" stroke="#4a4a4a" stroke-width="1.1"/>
<text x="264.90" y="509" font-size="10" text-anchor="middle" fill="#333">80</text>
<line x1="290.70" y1="487.95" x2="290.70" y2="493.95" stroke="#4a4a4a" stroke-width="1.1"/>
<text x="290.70" y="509" font-size="10" text-anchor="middle" fill="#333">0</text>
<line x1="344.50" y1="487.95" x2="344.50" y2="493.95" stroke="#4a4a4a" stroke-width="1.1"/>
<text x="344.50" y="509" font-size="10" text-anchor="middle" fill="#333">20</text>
<line x1="398.30" y1="487.95" x2="398.30" y2="493.95" stroke="#4a4a4a" stroke-width="1.1"/>
<text x="398.30" y="509" font-size="10" text-anchor="middle" fill="#333">40</text>
<line x1="452.10" y1="487.95" x2="452.10" y2="493.95" stroke="#4a4a4a" stroke-width="1.1"/>
<text x="452.10" y="509" font-size="10" text-anchor="middle" fill="#333">60</text>
<line x1="505.90" y1="487.95" x2="505.90" y2="493.95" stroke="#4a4a4a" stroke-width="1.1"/>
<text x="505.90" y="509" font-size="10" text-anchor="middle" fill="#333">80</text>
<line x1="531.70" y1="487.95" x2="531.70" y2="493.95" stroke="#4a4a4a" stroke-width="1.1"/>
<text x="531.70" y="509" font-size="10" text-anchor="middle" fill="#333">0</text>
<line x1="585.50" y1="487.95" x2="585.50" y2="493.95" stroke="#4a4a4a" stroke-width="1.1"/>
<text x="585.50" y="509" font-size="10" text-anchor="middle" fill="#333">20</text>
<line x1="639.30" y1="487.95" x2="639.30" y2="493.95" stroke="#4a4a4a" stroke-width="1.1"/>
<text x="639.30" y="509" font-size="10" text-anchor="middle" fill="#333">40</text>
<line x1="693.10" y1="487.95" x2="693.10" y2="493.95" stroke="#4a4a4a" stroke-width="1.1"/>
<text x="693.10" y="509" font-size="10" text-anchor="middle" fill="#333">60</text>
<line x1="746.90" y1="487.95" x2="746.90" y2="493.95" stroke="#4a4a4a" stroke-width="1.1"/>
<text x="746.90" y="509" font-size="10" text-anchor="middle" fill="#333">80</text>
<text x="399" y="523.8" font-size="14.2" text-anchor="middle" fill="#222">Depth (cm)</text>
<text transform="translate(13.4,244.6) rotate(-90)" font-size="12.7" text-anchor="middle" fill="#222">&#916; SOC (tonnes C ha<tspan font-size="8.5" dy="-6">&#8722;1</tspan><tspan dy="6">)</tspan></text>
</svg>
</body></html>
